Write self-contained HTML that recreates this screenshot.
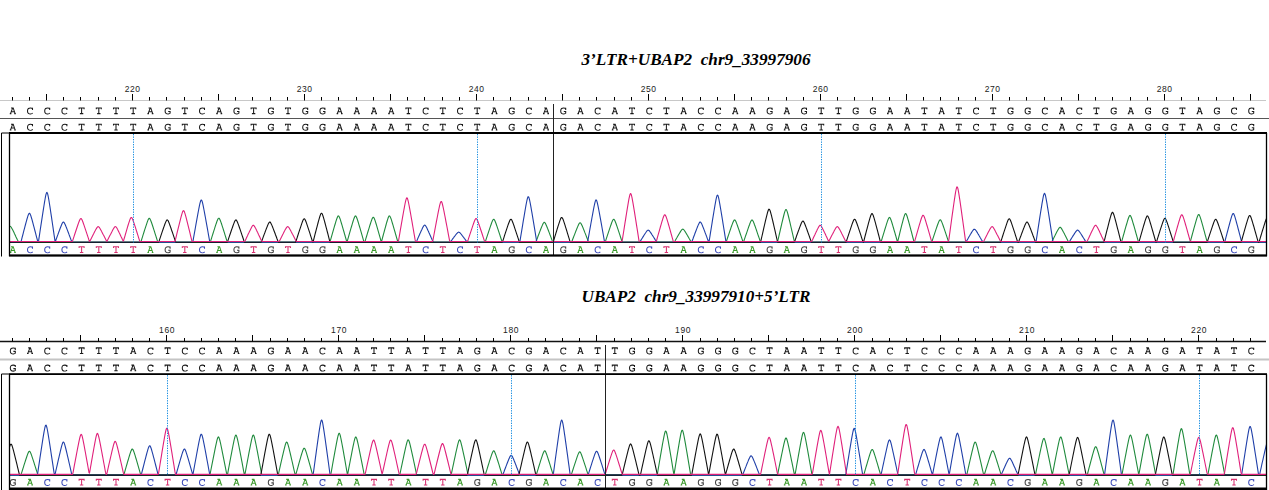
<!DOCTYPE html>
<html><head><meta charset="utf-8"><style>
html,body{margin:0;padding:0;background:#fff;}
svg{display:block;}
.ttl{font-family:"Liberation Serif",serif;font-weight:bold;font-style:italic;font-size:17px;fill:#000;}
.num{font-family:"Liberation Sans",sans-serif;font-size:8.5px;fill:#222;letter-spacing:0.6px;}
.sq{font-family:"Liberation Serif",serif;font-size:11px;fill:#222;stroke:#222;stroke-width:0.25px;}
.cl{font-family:"Liberation Serif",serif;font-size:11px;stroke-width:0.25px;}
</style></head><body>
<svg width="1269" height="490" viewBox="0 0 1269 490">
<defs>
<g id="gA" fill="none" stroke-width="1.05"><path d="M-1.8,-6.4H0.4L2.3,-0.7M-0.2,-6.2L-2.3,-0.7M-1.5,-2.6H1.5M-3.0,-0.7H-1.4M1.4,-0.7H3.0"/></g>
<g id="gC" fill="none" stroke-width="1.05"><path d="M2.5,-4.4V-6.6M2.5,-5.7C1.7,-6.5 -0.5,-6.7 -1.6,-5.8C-2.8,-4.8 -2.8,-2.0 -1.6,-1.0C-0.5,-0.1 1.7,-0.3 2.7,-1.3"/></g>
<g id="gG" fill="none" stroke-width="1.05"><path d="M2.5,-4.4V-6.6M2.5,-5.7C1.7,-6.5 -0.5,-6.7 -1.6,-5.8C-2.8,-4.8 -2.8,-2.0 -1.6,-1.0C-0.5,-0.1 1.9,-0.2 2.5,-1.0V-2.9H0.6"/></g>
<g id="gT" fill="none" stroke-width="1.05"><path d="M-2.5,-5.0V-6.4H2.5V-5.0M0,-6.4V-0.7M-1.7,-0.7H1.7"/></g>
</defs>
<rect width="1269" height="490" fill="#fff"/>
<text x="581.5" y="64.7" class="ttl" textLength="229" lengthAdjust="spacingAndGlyphs">3’LTR+UBAP2&#160;&#160;chr9_33997906</text>
<line x1="0" y1="100.5" x2="1266" y2="100.5" stroke="#c8c8c8" stroke-width="1"/>
<line x1="12.5" y1="97" x2="12.5" y2="100.5" stroke="#000" stroke-width="1"/>
<line x1="29.5" y1="97" x2="29.5" y2="100.5" stroke="#000" stroke-width="1"/>
<line x1="46.5" y1="94" x2="46.5" y2="100.5" stroke="#000" stroke-width="1"/>
<line x1="63.5" y1="97" x2="63.5" y2="100.5" stroke="#000" stroke-width="1"/>
<line x1="80.5" y1="97" x2="80.5" y2="100.5" stroke="#000" stroke-width="1"/>
<line x1="98.5" y1="97" x2="98.5" y2="100.5" stroke="#000" stroke-width="1"/>
<line x1="115.5" y1="97" x2="115.5" y2="100.5" stroke="#000" stroke-width="1"/>
<line x1="132.5" y1="94" x2="132.5" y2="100.5" stroke="#000" stroke-width="1"/>
<text x="132.7" y="92" class="num" text-anchor="middle">220</text>
<line x1="149.5" y1="97" x2="149.5" y2="100.5" stroke="#000" stroke-width="1"/>
<line x1="166.5" y1="97" x2="166.5" y2="100.5" stroke="#000" stroke-width="1"/>
<line x1="184.5" y1="97" x2="184.5" y2="100.5" stroke="#000" stroke-width="1"/>
<line x1="201.5" y1="97" x2="201.5" y2="100.5" stroke="#000" stroke-width="1"/>
<line x1="218.5" y1="94" x2="218.5" y2="100.5" stroke="#000" stroke-width="1"/>
<line x1="235.5" y1="97" x2="235.5" y2="100.5" stroke="#000" stroke-width="1"/>
<line x1="252.5" y1="97" x2="252.5" y2="100.5" stroke="#000" stroke-width="1"/>
<line x1="270.5" y1="97" x2="270.5" y2="100.5" stroke="#000" stroke-width="1"/>
<line x1="287.5" y1="97" x2="287.5" y2="100.5" stroke="#000" stroke-width="1"/>
<line x1="304.5" y1="94" x2="304.5" y2="100.5" stroke="#000" stroke-width="1"/>
<text x="304.7" y="92" class="num" text-anchor="middle">230</text>
<line x1="321.5" y1="97" x2="321.5" y2="100.5" stroke="#000" stroke-width="1"/>
<line x1="338.5" y1="97" x2="338.5" y2="100.5" stroke="#000" stroke-width="1"/>
<line x1="356.5" y1="97" x2="356.5" y2="100.5" stroke="#000" stroke-width="1"/>
<line x1="373.5" y1="97" x2="373.5" y2="100.5" stroke="#000" stroke-width="1"/>
<line x1="390.5" y1="94" x2="390.5" y2="100.5" stroke="#000" stroke-width="1"/>
<line x1="407.5" y1="97" x2="407.5" y2="100.5" stroke="#000" stroke-width="1"/>
<line x1="424.5" y1="97" x2="424.5" y2="100.5" stroke="#000" stroke-width="1"/>
<line x1="442.5" y1="97" x2="442.5" y2="100.5" stroke="#000" stroke-width="1"/>
<line x1="459.5" y1="97" x2="459.5" y2="100.5" stroke="#000" stroke-width="1"/>
<line x1="476.5" y1="94" x2="476.5" y2="100.5" stroke="#000" stroke-width="1"/>
<text x="476.7" y="92" class="num" text-anchor="middle">240</text>
<line x1="493.5" y1="97" x2="493.5" y2="100.5" stroke="#000" stroke-width="1"/>
<line x1="510.5" y1="97" x2="510.5" y2="100.5" stroke="#000" stroke-width="1"/>
<line x1="528.5" y1="97" x2="528.5" y2="100.5" stroke="#000" stroke-width="1"/>
<line x1="545.5" y1="97" x2="545.5" y2="100.5" stroke="#000" stroke-width="1"/>
<line x1="562.5" y1="94" x2="562.5" y2="100.5" stroke="#000" stroke-width="1"/>
<line x1="579.5" y1="97" x2="579.5" y2="100.5" stroke="#000" stroke-width="1"/>
<line x1="596.5" y1="97" x2="596.5" y2="100.5" stroke="#000" stroke-width="1"/>
<line x1="614.5" y1="97" x2="614.5" y2="100.5" stroke="#000" stroke-width="1"/>
<line x1="631.5" y1="97" x2="631.5" y2="100.5" stroke="#000" stroke-width="1"/>
<line x1="648.5" y1="94" x2="648.5" y2="100.5" stroke="#000" stroke-width="1"/>
<text x="648.7" y="92" class="num" text-anchor="middle">250</text>
<line x1="665.5" y1="97" x2="665.5" y2="100.5" stroke="#000" stroke-width="1"/>
<line x1="682.5" y1="97" x2="682.5" y2="100.5" stroke="#000" stroke-width="1"/>
<line x1="700.5" y1="97" x2="700.5" y2="100.5" stroke="#000" stroke-width="1"/>
<line x1="717.5" y1="97" x2="717.5" y2="100.5" stroke="#000" stroke-width="1"/>
<line x1="734.5" y1="94" x2="734.5" y2="100.5" stroke="#000" stroke-width="1"/>
<line x1="751.5" y1="97" x2="751.5" y2="100.5" stroke="#000" stroke-width="1"/>
<line x1="768.5" y1="97" x2="768.5" y2="100.5" stroke="#000" stroke-width="1"/>
<line x1="786.5" y1="97" x2="786.5" y2="100.5" stroke="#000" stroke-width="1"/>
<line x1="803.5" y1="97" x2="803.5" y2="100.5" stroke="#000" stroke-width="1"/>
<line x1="820.5" y1="94" x2="820.5" y2="100.5" stroke="#000" stroke-width="1"/>
<text x="820.7" y="92" class="num" text-anchor="middle">260</text>
<line x1="837.5" y1="97" x2="837.5" y2="100.5" stroke="#000" stroke-width="1"/>
<line x1="854.5" y1="97" x2="854.5" y2="100.5" stroke="#000" stroke-width="1"/>
<line x1="872.5" y1="97" x2="872.5" y2="100.5" stroke="#000" stroke-width="1"/>
<line x1="889.5" y1="97" x2="889.5" y2="100.5" stroke="#000" stroke-width="1"/>
<line x1="906.5" y1="94" x2="906.5" y2="100.5" stroke="#000" stroke-width="1"/>
<line x1="923.5" y1="97" x2="923.5" y2="100.5" stroke="#000" stroke-width="1"/>
<line x1="940.5" y1="97" x2="940.5" y2="100.5" stroke="#000" stroke-width="1"/>
<line x1="958.5" y1="97" x2="958.5" y2="100.5" stroke="#000" stroke-width="1"/>
<line x1="975.5" y1="97" x2="975.5" y2="100.5" stroke="#000" stroke-width="1"/>
<line x1="992.5" y1="94" x2="992.5" y2="100.5" stroke="#000" stroke-width="1"/>
<text x="992.7" y="92" class="num" text-anchor="middle">270</text>
<line x1="1009.5" y1="97" x2="1009.5" y2="100.5" stroke="#000" stroke-width="1"/>
<line x1="1026.5" y1="97" x2="1026.5" y2="100.5" stroke="#000" stroke-width="1"/>
<line x1="1044.5" y1="97" x2="1044.5" y2="100.5" stroke="#000" stroke-width="1"/>
<line x1="1061.5" y1="97" x2="1061.5" y2="100.5" stroke="#000" stroke-width="1"/>
<line x1="1078.5" y1="94" x2="1078.5" y2="100.5" stroke="#000" stroke-width="1"/>
<line x1="1095.5" y1="97" x2="1095.5" y2="100.5" stroke="#000" stroke-width="1"/>
<line x1="1112.5" y1="97" x2="1112.5" y2="100.5" stroke="#000" stroke-width="1"/>
<line x1="1130.5" y1="97" x2="1130.5" y2="100.5" stroke="#000" stroke-width="1"/>
<line x1="1147.5" y1="97" x2="1147.5" y2="100.5" stroke="#000" stroke-width="1"/>
<line x1="1164.5" y1="94" x2="1164.5" y2="100.5" stroke="#000" stroke-width="1"/>
<text x="1164.7" y="92" class="num" text-anchor="middle">280</text>
<line x1="1181.5" y1="97" x2="1181.5" y2="100.5" stroke="#000" stroke-width="1"/>
<line x1="1198.5" y1="97" x2="1198.5" y2="100.5" stroke="#000" stroke-width="1"/>
<line x1="1216.5" y1="97" x2="1216.5" y2="100.5" stroke="#000" stroke-width="1"/>
<line x1="1233.5" y1="97" x2="1233.5" y2="100.5" stroke="#000" stroke-width="1"/>
<line x1="1250.5" y1="94" x2="1250.5" y2="100.5" stroke="#000" stroke-width="1"/>
<use href="#gA" x="12.8" y="114.3" stroke="#1a1a1a"/>
<use href="#gA" x="12.8" y="130.6" stroke="#1a1a1a"/>
<use href="#gC" x="30.0" y="114.3" stroke="#1a1a1a"/>
<use href="#gC" x="30.0" y="130.6" stroke="#1a1a1a"/>
<use href="#gC" x="47.2" y="114.3" stroke="#1a1a1a"/>
<use href="#gC" x="47.2" y="130.6" stroke="#1a1a1a"/>
<use href="#gC" x="64.4" y="114.3" stroke="#1a1a1a"/>
<use href="#gC" x="64.4" y="130.6" stroke="#1a1a1a"/>
<use href="#gT" x="81.6" y="114.3" stroke="#1a1a1a"/>
<use href="#gT" x="81.6" y="130.6" stroke="#1a1a1a"/>
<use href="#gT" x="98.8" y="114.3" stroke="#1a1a1a"/>
<use href="#gT" x="98.8" y="130.6" stroke="#1a1a1a"/>
<use href="#gT" x="116.0" y="114.3" stroke="#1a1a1a"/>
<use href="#gT" x="116.0" y="130.6" stroke="#1a1a1a"/>
<use href="#gT" x="133.2" y="114.3" stroke="#1a1a1a"/>
<use href="#gT" x="133.2" y="130.6" stroke="#1a1a1a"/>
<use href="#gA" x="150.4" y="114.3" stroke="#1a1a1a"/>
<use href="#gA" x="150.4" y="130.6" stroke="#1a1a1a"/>
<use href="#gG" x="167.6" y="114.3" stroke="#1a1a1a"/>
<use href="#gG" x="167.6" y="130.6" stroke="#1a1a1a"/>
<use href="#gT" x="184.8" y="114.3" stroke="#1a1a1a"/>
<use href="#gT" x="184.8" y="130.6" stroke="#1a1a1a"/>
<use href="#gC" x="202.0" y="114.3" stroke="#1a1a1a"/>
<use href="#gC" x="202.0" y="130.6" stroke="#1a1a1a"/>
<use href="#gA" x="219.2" y="114.3" stroke="#1a1a1a"/>
<use href="#gA" x="219.2" y="130.6" stroke="#1a1a1a"/>
<use href="#gG" x="236.4" y="114.3" stroke="#1a1a1a"/>
<use href="#gG" x="236.4" y="130.6" stroke="#1a1a1a"/>
<use href="#gT" x="253.6" y="114.3" stroke="#1a1a1a"/>
<use href="#gT" x="253.6" y="130.6" stroke="#1a1a1a"/>
<use href="#gG" x="270.8" y="114.3" stroke="#1a1a1a"/>
<use href="#gG" x="270.8" y="130.6" stroke="#1a1a1a"/>
<use href="#gT" x="288.0" y="114.3" stroke="#1a1a1a"/>
<use href="#gT" x="288.0" y="130.6" stroke="#1a1a1a"/>
<use href="#gG" x="305.2" y="114.3" stroke="#1a1a1a"/>
<use href="#gG" x="305.2" y="130.6" stroke="#1a1a1a"/>
<use href="#gG" x="322.4" y="114.3" stroke="#1a1a1a"/>
<use href="#gG" x="322.4" y="130.6" stroke="#1a1a1a"/>
<use href="#gA" x="339.6" y="114.3" stroke="#1a1a1a"/>
<use href="#gA" x="339.6" y="130.6" stroke="#1a1a1a"/>
<use href="#gA" x="356.8" y="114.3" stroke="#1a1a1a"/>
<use href="#gA" x="356.8" y="130.6" stroke="#1a1a1a"/>
<use href="#gA" x="374.0" y="114.3" stroke="#1a1a1a"/>
<use href="#gA" x="374.0" y="130.6" stroke="#1a1a1a"/>
<use href="#gA" x="391.2" y="114.3" stroke="#1a1a1a"/>
<use href="#gA" x="391.2" y="130.6" stroke="#1a1a1a"/>
<use href="#gT" x="408.4" y="114.3" stroke="#1a1a1a"/>
<use href="#gT" x="408.4" y="130.6" stroke="#1a1a1a"/>
<use href="#gC" x="425.6" y="114.3" stroke="#1a1a1a"/>
<use href="#gC" x="425.6" y="130.6" stroke="#1a1a1a"/>
<use href="#gT" x="442.8" y="114.3" stroke="#1a1a1a"/>
<use href="#gT" x="442.8" y="130.6" stroke="#1a1a1a"/>
<use href="#gC" x="460.0" y="114.3" stroke="#1a1a1a"/>
<use href="#gC" x="460.0" y="130.6" stroke="#1a1a1a"/>
<use href="#gT" x="477.2" y="114.3" stroke="#1a1a1a"/>
<use href="#gT" x="477.2" y="130.6" stroke="#1a1a1a"/>
<use href="#gA" x="494.4" y="114.3" stroke="#1a1a1a"/>
<use href="#gA" x="494.4" y="130.6" stroke="#1a1a1a"/>
<use href="#gG" x="511.6" y="114.3" stroke="#1a1a1a"/>
<use href="#gG" x="511.6" y="130.6" stroke="#1a1a1a"/>
<use href="#gC" x="528.8" y="114.3" stroke="#1a1a1a"/>
<use href="#gC" x="528.8" y="130.6" stroke="#1a1a1a"/>
<use href="#gA" x="546.0" y="114.3" stroke="#1a1a1a"/>
<use href="#gA" x="546.0" y="130.6" stroke="#1a1a1a"/>
<use href="#gG" x="563.2" y="114.3" stroke="#1a1a1a"/>
<use href="#gG" x="563.2" y="130.6" stroke="#1a1a1a"/>
<use href="#gA" x="580.4" y="114.3" stroke="#1a1a1a"/>
<use href="#gA" x="580.4" y="130.6" stroke="#1a1a1a"/>
<use href="#gC" x="597.6" y="114.3" stroke="#1a1a1a"/>
<use href="#gC" x="597.6" y="130.6" stroke="#1a1a1a"/>
<use href="#gA" x="614.8" y="114.3" stroke="#1a1a1a"/>
<use href="#gA" x="614.8" y="130.6" stroke="#1a1a1a"/>
<use href="#gT" x="632.0" y="114.3" stroke="#1a1a1a"/>
<use href="#gT" x="632.0" y="130.6" stroke="#1a1a1a"/>
<use href="#gC" x="649.2" y="114.3" stroke="#1a1a1a"/>
<use href="#gC" x="649.2" y="130.6" stroke="#1a1a1a"/>
<use href="#gT" x="666.4" y="114.3" stroke="#1a1a1a"/>
<use href="#gT" x="666.4" y="130.6" stroke="#1a1a1a"/>
<use href="#gA" x="683.6" y="114.3" stroke="#1a1a1a"/>
<use href="#gA" x="683.6" y="130.6" stroke="#1a1a1a"/>
<use href="#gC" x="700.8" y="114.3" stroke="#1a1a1a"/>
<use href="#gC" x="700.8" y="130.6" stroke="#1a1a1a"/>
<use href="#gC" x="718.0" y="114.3" stroke="#1a1a1a"/>
<use href="#gC" x="718.0" y="130.6" stroke="#1a1a1a"/>
<use href="#gA" x="735.2" y="114.3" stroke="#1a1a1a"/>
<use href="#gA" x="735.2" y="130.6" stroke="#1a1a1a"/>
<use href="#gA" x="752.4" y="114.3" stroke="#1a1a1a"/>
<use href="#gA" x="752.4" y="130.6" stroke="#1a1a1a"/>
<use href="#gG" x="769.6" y="114.3" stroke="#1a1a1a"/>
<use href="#gG" x="769.6" y="130.6" stroke="#1a1a1a"/>
<use href="#gA" x="786.8" y="114.3" stroke="#1a1a1a"/>
<use href="#gA" x="786.8" y="130.6" stroke="#1a1a1a"/>
<use href="#gG" x="804.0" y="114.3" stroke="#1a1a1a"/>
<use href="#gG" x="804.0" y="130.6" stroke="#1a1a1a"/>
<use href="#gT" x="821.2" y="114.3" stroke="#1a1a1a"/>
<use href="#gT" x="821.2" y="130.6" stroke="#1a1a1a"/>
<use href="#gT" x="838.4" y="114.3" stroke="#1a1a1a"/>
<use href="#gT" x="838.4" y="130.6" stroke="#1a1a1a"/>
<use href="#gG" x="855.6" y="114.3" stroke="#1a1a1a"/>
<use href="#gG" x="855.6" y="130.6" stroke="#1a1a1a"/>
<use href="#gG" x="872.8" y="114.3" stroke="#1a1a1a"/>
<use href="#gG" x="872.8" y="130.6" stroke="#1a1a1a"/>
<use href="#gA" x="890.0" y="114.3" stroke="#1a1a1a"/>
<use href="#gA" x="890.0" y="130.6" stroke="#1a1a1a"/>
<use href="#gA" x="907.2" y="114.3" stroke="#1a1a1a"/>
<use href="#gA" x="907.2" y="130.6" stroke="#1a1a1a"/>
<use href="#gT" x="924.4" y="114.3" stroke="#1a1a1a"/>
<use href="#gT" x="924.4" y="130.6" stroke="#1a1a1a"/>
<use href="#gA" x="941.6" y="114.3" stroke="#1a1a1a"/>
<use href="#gA" x="941.6" y="130.6" stroke="#1a1a1a"/>
<use href="#gT" x="958.8" y="114.3" stroke="#1a1a1a"/>
<use href="#gT" x="958.8" y="130.6" stroke="#1a1a1a"/>
<use href="#gC" x="976.0" y="114.3" stroke="#1a1a1a"/>
<use href="#gC" x="976.0" y="130.6" stroke="#1a1a1a"/>
<use href="#gT" x="993.2" y="114.3" stroke="#1a1a1a"/>
<use href="#gT" x="993.2" y="130.6" stroke="#1a1a1a"/>
<use href="#gG" x="1010.4" y="114.3" stroke="#1a1a1a"/>
<use href="#gG" x="1010.4" y="130.6" stroke="#1a1a1a"/>
<use href="#gG" x="1027.6" y="114.3" stroke="#1a1a1a"/>
<use href="#gG" x="1027.6" y="130.6" stroke="#1a1a1a"/>
<use href="#gC" x="1044.8" y="114.3" stroke="#1a1a1a"/>
<use href="#gC" x="1044.8" y="130.6" stroke="#1a1a1a"/>
<use href="#gA" x="1062.0" y="114.3" stroke="#1a1a1a"/>
<use href="#gA" x="1062.0" y="130.6" stroke="#1a1a1a"/>
<use href="#gC" x="1079.2" y="114.3" stroke="#1a1a1a"/>
<use href="#gC" x="1079.2" y="130.6" stroke="#1a1a1a"/>
<use href="#gT" x="1096.4" y="114.3" stroke="#1a1a1a"/>
<use href="#gT" x="1096.4" y="130.6" stroke="#1a1a1a"/>
<use href="#gG" x="1113.6" y="114.3" stroke="#1a1a1a"/>
<use href="#gG" x="1113.6" y="130.6" stroke="#1a1a1a"/>
<use href="#gA" x="1130.8" y="114.3" stroke="#1a1a1a"/>
<use href="#gA" x="1130.8" y="130.6" stroke="#1a1a1a"/>
<use href="#gG" x="1148.0" y="114.3" stroke="#1a1a1a"/>
<use href="#gG" x="1148.0" y="130.6" stroke="#1a1a1a"/>
<use href="#gG" x="1165.2" y="114.3" stroke="#1a1a1a"/>
<use href="#gG" x="1165.2" y="130.6" stroke="#1a1a1a"/>
<use href="#gT" x="1182.4" y="114.3" stroke="#1a1a1a"/>
<use href="#gT" x="1182.4" y="130.6" stroke="#1a1a1a"/>
<use href="#gA" x="1199.6" y="114.3" stroke="#1a1a1a"/>
<use href="#gA" x="1199.6" y="130.6" stroke="#1a1a1a"/>
<use href="#gG" x="1216.8" y="114.3" stroke="#1a1a1a"/>
<use href="#gG" x="1216.8" y="130.6" stroke="#1a1a1a"/>
<use href="#gC" x="1234.0" y="114.3" stroke="#1a1a1a"/>
<use href="#gC" x="1234.0" y="130.6" stroke="#1a1a1a"/>
<use href="#gG" x="1251.2" y="114.3" stroke="#1a1a1a"/>
<use href="#gG" x="1251.2" y="130.6" stroke="#1a1a1a"/>
<line x1="0" y1="118.5" x2="1269" y2="118.5" stroke="#555" stroke-width="1.2"/>
<clipPath id="clip0"><rect x="10" y="133" width="1256.5" height="122.5"/></clipPath>
<line x1="10" y1="242.3" x2="1266" y2="242.3" stroke="#222" stroke-width="1"/>
<g clip-path="url(#clip0)" fill="none" stroke-width="1.1" stroke-linejoin="round">
<path d="M8,228.7L8.5,227.8L9,227.0L9.5,226.4L10,226.2L10.5,226.4L11,227.0L11.5,227.8L12,228.7L12.5,229.6L13,230.6L13.5,231.6L14,232.6L14.5,233.7L15,234.7L15.5,235.8L16,236.9L16.5,237.9L17,239.0L17.5,240.1L18,241.1L18.5,242.2L140.5,242.2L141,241.6L141.5,240.0L142,238.4L142.5,236.8L143,235.2L143.5,233.6L144,232.0L144.5,230.4L145,228.9L145.5,227.3L146,225.8L146.5,224.3L147,222.8L147.5,221.4L148,220.1L148.5,219.1L149,218.4L149.5,218.4L150,218.9L150.5,219.9L151,221.2L151.5,222.5L152,224.0L152.5,225.5L153,227.0L153.5,228.6L154,230.1L154.5,231.7L155,233.3L155.5,234.9L156,236.4L156.5,238.0L157,239.6L157.5,241.2L158,242.2L210,242.2L210.5,241.6L211,239.9L211.5,238.3L212,236.7L212.5,235.1L213,233.5L213.5,231.9L214,230.3L214.5,228.8L215,227.2L215.5,225.6L216,224.1L216.5,222.7L217,221.2L217.5,220.0L218,218.9L218.5,218.2L219,218.2L219.5,218.7L220,219.7L220.5,221.0L221,222.4L221.5,223.8L222,225.3L222.5,226.9L223,228.4L223.5,230.0L224,231.6L224.5,233.2L225,234.8L225.5,236.4L226,238.0L226.5,239.6L227,241.2L227.5,242.2L329.5,242.2L330,241.8L330.5,240.1L331,238.3L331.5,236.6L332,234.8L332.5,233.1L333,231.3L333.5,229.6L334,227.9L334.5,226.2L335,224.5L335.5,222.8L336,221.2L336.5,219.6L337,218.2L337.5,217.0L338,216.1L338.5,215.9L339,216.4L339.5,217.4L340,218.7L340.5,220.2L341,221.8L341.5,223.5L342,225.1L342.5,226.8L343,228.6L343.5,230.3L344,232.0L344.5,233.8L345,235.5L345.5,237.3L346,239.0L346.5,240.8L347,242.2L347.5,240.4L348,238.7L348.5,236.9L349,235.2L349.5,233.4L350,231.7L350.5,229.9L351,228.2L351.5,226.5L352,224.8L352.5,223.1L353,221.5L353.5,219.9L354,218.5L354.5,217.2L355,216.3L355.5,215.9L356,216.3L356.5,217.2L357,218.5L357.5,219.9L358,221.5L358.5,223.1L359,224.8L359.5,226.5L360,228.2L360.5,229.9L361,231.7L361.5,233.4L362,235.2L362.5,236.9L363,238.7L363.5,240.4L364,242.2L364.5,242.2L365,241.5L365.5,239.9L366,238.2L366.5,236.5L367,234.8L367.5,233.2L368,231.5L368.5,229.9L369,228.3L369.5,226.6L370,225.0L370.5,223.5L371,221.9L371.5,220.5L372,219.1L372.5,218.0L373,217.3L373.5,217.3L374,217.9L374.5,219.0L375,220.4L375.5,221.9L376,223.5L376.5,225.2L377,226.9L377.5,228.6L378,230.4L378.5,232.1L379,233.9L379.5,235.6L380,237.4L380.5,239.2L381,241.0L381.5,241.6L382,239.8L382.5,237.9L383,236.0L383.5,234.2L384,232.3L384.5,230.5L385,228.6L385.5,226.8L386,225.0L386.5,223.2L387,221.5L387.5,219.9L388,218.3L388.5,217.0L389,216.1L389.5,215.9L390,216.4L390.5,217.4L391,218.7L391.5,220.2L392,221.8L392.5,223.5L393,225.1L393.5,226.8L394,228.6L394.5,230.3L395,232.0L395.5,233.8L396,235.5L396.5,237.3L397,239.0L397.5,240.8L398,242.2L485,242.2L485.5,241.3L486,239.7L486.5,238.2L487,236.7L487.5,235.1L488,233.6L488.5,232.1L489,230.6L489.5,229.1L490,227.6L490.5,226.1L491,224.7L491.5,223.3L492,221.9L492.5,220.7L493,219.8L493.5,219.3L494,219.3L494.5,220.0L495,221.0L495.5,222.2L496,223.5L496.5,225.0L497,226.4L497.5,227.9L498,229.4L498.5,230.9L499,232.4L499.5,233.9L500,235.4L500.5,237.0L501,238.5L501.5,240.0L502,241.6L502.5,242.2L535.5,242.2L536,241.7L536.5,240.3L537,239.0L537.5,237.7L538,236.3L538.5,235.0L539,233.7L539.5,232.4L540,231.1L540.5,229.8L541,228.5L541.5,227.3L542,226.1L542.5,224.9L543,223.8L543.5,223.0L544,222.4L544.5,222.3L545,222.8L545.5,223.6L546,224.7L546.5,225.8L547,227.0L547.5,228.3L548,229.5L548.5,230.8L549,232.1L549.5,233.4L550,234.8L550.5,236.1L551,237.4L551.5,238.7L552,240.1L552.5,241.4L553,242.2L571.5,242.2L572,241.2L572.5,239.8L573,238.5L573.5,237.2L574,235.9L574.5,234.7L575,233.4L575.5,232.1L576,230.8L576.5,229.6L577,228.3L577.5,227.1L578,225.9L578.5,224.8L579,223.8L579.5,223.1L580,222.7L580.5,222.9L581,223.5L581.5,224.4L582,225.5L582.5,226.6L583,227.8L583.5,229.1L584,230.3L584.5,231.6L585,232.9L585.5,234.1L586,235.4L586.5,236.7L587,238.0L587.5,239.3L588,240.6L588.5,241.9L589,242.2L605,242.2L605.5,241.3L606,239.7L606.5,238.2L607,236.7L607.5,235.1L608,233.6L608.5,232.1L609,230.6L609.5,229.1L610,227.6L610.5,226.1L611,224.7L611.5,223.3L612,221.9L612.5,220.7L613,219.8L613.5,219.3L614,219.3L614.5,220.0L615,221.0L615.5,222.2L616,223.5L616.5,225.0L617,226.4L617.5,227.9L618,229.4L618.5,230.9L619,232.4L619.5,233.9L620,235.4L620.5,237.0L621,238.5L621.5,240.0L622,241.6L622.5,242.2L674,242.2L674.5,241.8L675,241.0L675.5,240.1L676,239.2L676.5,238.3L677,237.5L677.5,236.6L678,235.7L678.5,234.9L679,234.0L679.5,233.2L680,232.4L680.5,231.6L681,230.8L681.5,230.1L682,229.5L682.5,229.2L683,229.1L683.5,229.4L684,230.0L684.5,230.7L685,231.4L685.5,232.2L686,233.0L686.5,233.9L687,234.7L687.5,235.6L688,236.4L688.5,237.3L689,238.2L689.5,239.0L690,239.9L690.5,240.8L691,241.7L691.5,242.2L726,242.2L726.5,241.0L727,239.5L727.5,238.0L728,236.5L728.5,235.1L729,233.6L729.5,232.1L730,230.6L730.5,229.2L731,227.7L731.5,226.3L732,224.9L732.5,223.6L733,222.3L733.5,221.2L734,220.3L734.5,219.9L735,220.1L735.5,220.8L736,221.8L736.5,223.1L737,224.4L737.5,225.8L738,227.2L738.5,228.6L739,230.0L739.5,231.5L740,233.0L740.5,234.5L741,235.9L741.5,237.4L742,238.9L742.5,240.4L743,241.9L743.5,242.2L744,240.7L744.5,239.2L745,237.7L745.5,236.2L746,234.8L746.5,233.3L747,231.8L747.5,230.3L748,228.9L748.5,227.4L749,226.0L749.5,224.7L750,223.3L750.5,222.1L751,221.0L751.5,220.2L752,219.9L752.5,220.2L753,221.0L753.5,222.1L754,223.3L754.5,224.7L755,226.0L755.5,227.4L756,228.9L756.5,230.3L757,231.8L757.5,233.3L758,234.8L758.5,236.2L759,237.7L759.5,239.2L760,240.7L760.5,242.2L777.5,242.2L778,240.0L778.5,237.8L779,235.6L779.5,233.5L780,231.3L780.5,229.1L781,227.0L781.5,224.8L782,222.7L782.5,220.6L783,218.5L783.5,216.5L784,214.5L784.5,212.7L785,211.1L785.5,209.9L786,209.5L786.5,209.9L787,211.1L787.5,212.7L788,214.5L788.5,216.5L789,218.5L789.5,220.6L790,222.7L790.5,224.8L791,227.0L791.5,229.1L792,231.3L792.5,233.5L793,235.6L793.5,237.8L794,240.0L794.5,242.2L881,242.2L881.5,240.5L882,238.9L882.5,237.2L883,235.6L883.5,233.9L884,232.3L884.5,230.6L885,229.0L885.5,227.4L886,225.8L886.5,224.2L887,222.7L887.5,221.2L888,219.8L888.5,218.6L889,217.7L889.5,217.4L890,217.8L890.5,218.7L891,220.0L891.5,221.4L892,223.0L892.5,224.7L893,226.3L893.5,228.0L894,229.8L894.5,231.5L895,233.2L895.5,235.0L896,236.7L896.5,238.5L897,240.3L897.5,242.0L898,240.4L898.5,238.3L899,236.3L899.5,234.3L900,232.2L900.5,230.2L901,228.2L901.5,226.2L902,224.2L902.5,222.3L903,220.4L903.5,218.5L904,216.8L904.5,215.3L905,214.1L905.5,213.5L906,213.8L906.5,214.7L907,216.0L907.5,217.6L908,219.3L908.5,221.0L909,222.8L909.5,224.7L910,226.6L910.5,228.4L911,230.3L911.5,232.2L912,234.1L912.5,236.1L913,238.0L913.5,239.9L914,241.8L914.5,242.2L931.5,242.2L932,241.3L932.5,239.8L933,238.3L933.5,236.8L934,235.3L934.5,233.8L935,232.3L935.5,230.8L936,229.4L936.5,227.9L937,226.5L937.5,225.0L938,223.7L938.5,222.4L939,221.2L939.5,220.3L940,219.8L940.5,219.8L941,220.4L941.5,221.4L942,222.6L942.5,223.9L943,225.3L943.5,226.7L944,228.2L944.5,229.6L945,231.1L945.5,232.6L946,234.1L946.5,235.6L947,237.1L947.5,238.6L948,240.1L948.5,241.6L949,242.2L1051.5,242.2L1052,241.4L1052.5,240.4L1053,239.4L1053.5,238.4L1054,237.4L1054.5,236.4L1055,235.5L1055.5,234.5L1056,233.5L1056.5,232.5L1057,231.6L1057.5,230.7L1058,229.8L1058.5,228.9L1059,228.2L1059.5,227.6L1060,227.3L1060.5,227.4L1061,227.9L1061.5,228.6L1062,229.4L1062.5,230.3L1063,231.2L1063.5,232.2L1064,233.1L1064.5,234.1L1065,235.1L1065.5,236.0L1066,237.0L1066.5,238.0L1067,239.0L1067.5,240.0L1068,241.0L1068.5,242.0L1069,242.2L1121.5,242.2L1122,240.4L1122.5,238.6L1123,236.8L1123.5,235.0L1124,233.3L1124.5,231.5L1125,229.7L1125.5,227.9L1126,226.2L1126.5,224.5L1127,222.8L1127.5,221.1L1128,219.5L1128.5,218.0L1129,216.7L1129.5,215.8L1130,215.4L1130.5,215.8L1131,216.7L1131.5,218.0L1132,219.5L1132.5,221.1L1133,222.8L1133.5,224.5L1134,226.2L1134.5,227.9L1135,229.7L1135.5,231.5L1136,233.3L1136.5,235.0L1137,236.8L1137.5,238.6L1138,240.4L1138.5,242.2L1190,242.2L1190.5,241.1L1191,239.2L1191.5,237.4L1192,235.5L1192.5,233.7L1193,231.8L1193.5,230.0L1194,228.2L1194.5,226.4L1195,224.6L1195.5,222.8L1196,221.1L1196.5,219.4L1197,217.8L1197.5,216.4L1198,215.2L1198.5,214.6L1199,214.6L1199.5,215.4L1200,216.6L1200.5,218.1L1201,219.7L1201.5,221.4L1202,223.2L1202.5,224.9L1203,226.7L1203.5,228.6L1204,230.4L1204.5,232.2L1205,234.1L1205.5,235.9L1206,237.7L1206.5,239.6L1207,241.5L1207.5,242.2L1270,242.2" stroke="#1f8a3c"/>
<path d="M8,242.2L20.5,242.2L21,241.8L21.5,239.9L22,237.9L22.5,236.0L23,234.1L23.5,232.1L24,230.2L24.5,228.3L25,226.4L25.5,224.5L26,222.6L26.5,220.8L27,219.0L27.5,217.3L28,215.7L28.5,214.4L29,213.5L29.5,213.2L30,213.8L30.5,214.9L31,216.3L31.5,218.0L32,219.7L32.5,221.5L33,223.4L33.5,225.3L34,227.2L34.5,229.1L35,231.0L35.5,232.9L36,234.8L36.5,236.8L37,238.7L37.5,240.6L38,242.2L38.5,241.5L39,238.2L39.5,234.9L40,231.5L40.5,228.2L41,224.9L41.5,221.6L42,218.3L42.5,215.1L43,211.8L43.5,208.6L44,205.5L44.5,202.4L45,199.5L45.5,196.7L46,194.4L46.5,192.8L47,192.4L47.5,193.4L48,195.4L48.5,198.0L49,200.9L49.5,204.0L50,207.2L50.5,210.5L51,213.8L51.5,217.2L52,220.6L52.5,224.0L53,227.4L53.5,230.8L54,234.3L54.5,237.7L55,241.2L55.5,241.2L56,239.8L56.5,238.4L57,237.0L57.5,235.6L58,234.3L58.5,232.9L59,231.5L59.5,230.2L60,228.8L60.5,227.5L61,226.2L61.5,225.0L62,223.8L62.5,222.8L63,222.2L63.5,222.0L64,222.4L64.5,223.2L65,224.2L65.5,225.3L66,226.6L66.5,227.8L67,229.1L67.5,230.4L68,231.7L68.5,233.0L69,234.4L69.5,235.7L70,237.1L70.5,238.4L71,239.8L71.5,241.1L72,242.2L192.5,242.2L193,241.1L193.5,238.2L194,235.4L194.5,232.6L195,229.8L195.5,227.0L196,224.2L196.5,221.4L197,218.6L197.5,215.9L198,213.1L198.5,210.5L199,207.9L199.5,205.4L200,203.2L200.5,201.3L201,200.1L201.5,200.0L202,201.0L202.5,202.7L203,204.9L203.5,207.4L204,210.0L204.5,212.6L205,215.3L205.5,218.0L206,220.8L206.5,223.6L207,226.4L207.5,229.2L208,232.0L208.5,234.8L209,237.7L209.5,240.5L210,242.2L416,242.2L416.5,241.5L417,240.4L417.5,239.2L418,238.1L418.5,236.9L419,235.8L419.5,234.7L420,233.6L420.5,232.4L421,231.3L421.5,230.2L422,229.2L422.5,228.1L423,227.1L423.5,226.3L424,225.5L424.5,225.1L425,225.2L425.5,225.7L426,226.4L426.5,227.3L427,228.3L427.5,229.4L428,230.5L428.5,231.5L429,232.7L429.5,233.8L430,234.9L430.5,236.0L431,237.2L431.5,238.3L432,239.5L432.5,240.6L433,241.7L433.5,242.2L450,242.2L450.5,241.8L451,241.1L451.5,240.4L452,239.8L452.5,239.1L453,238.4L453.5,237.8L454,237.1L454.5,236.4L455,235.8L455.5,235.1L456,234.5L456.5,233.9L457,233.3L457.5,232.8L458,232.4L458.5,232.1L459,232.2L459.5,232.4L460,232.9L460.5,233.4L461,234.0L461.5,234.6L462,235.3L462.5,235.9L463,236.6L463.5,237.2L464,237.9L464.5,238.6L465,239.2L465.5,239.9L466,240.6L466.5,241.3L467,241.9L467.5,242.2L519.5,242.2L520,241.0L520.5,237.9L521,234.9L521.5,231.8L522,228.8L522.5,225.8L523,222.7L523.5,219.7L524,216.8L524.5,213.8L525,210.9L525.5,208.0L526,205.2L526.5,202.5L527,200.1L527.5,198.1L528,196.8L528.5,196.7L529,197.8L529.5,199.7L530,202.0L530.5,204.7L531,207.4L531.5,210.3L532,213.2L532.5,216.2L533,219.1L533.5,222.1L534,225.2L534.5,228.2L535,231.2L535.5,234.3L536,237.3L536.5,240.4L537,242.2L587.5,242.2L588,239.9L588.5,237.1L589,234.3L589.5,231.5L590,228.6L590.5,225.8L591,223.0L591.5,220.3L592,217.5L592.5,214.8L593,212.1L593.5,209.4L594,206.9L594.5,204.5L595,202.4L595.5,200.7L596,199.9L596.5,200.3L597,201.6L597.5,203.6L598,205.9L598.5,208.4L599,211.0L599.5,213.7L600,216.4L600.5,219.2L601,221.9L601.5,224.7L602,227.5L602.5,230.3L603,233.1L603.5,236.0L604,238.8L604.5,241.6L605,242.2L639.5,242.2L640,241.7L640.5,240.9L641,240.1L641.5,239.3L642,238.5L642.5,237.7L643,236.9L643.5,236.1L644,235.3L644.5,234.5L645,233.7L645.5,233.0L646,232.2L646.5,231.5L647,230.9L647.5,230.4L648,230.1L648.5,230.2L649,230.5L649.5,231.0L650,231.7L650.5,232.4L651,233.1L651.5,233.9L652,234.7L652.5,235.4L653,236.2L653.5,237.0L654,237.8L654.5,238.6L655,239.4L655.5,240.3L656,241.1L656.5,241.9L657,242.2L691.5,242.2L692,241.4L692.5,240.0L693,238.7L693.5,237.3L694,236.0L694.5,234.7L695,233.3L695.5,232.0L696,230.7L696.5,229.4L697,228.1L697.5,226.8L698,225.6L698.5,224.4L699,223.4L699.5,222.5L700,222.0L700.5,222.1L701,222.7L701.5,223.6L702,224.6L702.5,225.8L703,227.1L703.5,228.3L704,229.6L704.5,230.9L705,232.3L705.5,233.6L706,234.9L706.5,236.3L707,237.6L707.5,239.0L708,240.3L708.5,241.7L709,242.2L709.5,239.0L710,235.9L710.5,232.7L711,229.6L711.5,226.5L712,223.4L712.5,220.2L713,217.2L713.5,214.1L714,211.0L714.5,208.1L715,205.1L715.5,202.3L716,199.7L716.5,197.4L717,195.7L717.5,195.1L718,195.7L718.5,197.4L719,199.7L719.5,202.3L720,205.1L720.5,208.1L721,211.0L721.5,214.1L722,217.2L722.5,220.2L723,223.4L723.5,226.5L724,229.6L724.5,232.7L725,235.9L725.5,239.0L726,242.2L965.5,242.2L966,242.0L966.5,241.2L967,240.3L967.5,239.4L968,238.6L968.5,237.7L969,236.8L969.5,236.0L970,235.1L970.5,234.3L971,233.4L971.5,232.6L972,231.8L972.5,231.0L973,230.3L973.5,229.7L974,229.3L974.5,229.2L975,229.4L975.5,230.0L976,230.6L976.5,231.3L977,232.1L977.5,232.9L978,233.8L978.5,234.6L979,235.5L979.5,236.3L980,237.2L980.5,238.0L981,238.9L981.5,239.8L982,240.6L982.5,241.5L983,242.2L1036,242.2L1036.5,238.9L1037,235.7L1037.5,232.4L1038,229.1L1038.5,225.9L1039,222.6L1039.5,219.4L1040,216.2L1040.5,213.0L1041,209.9L1041.5,206.8L1042,203.7L1042.5,200.8L1043,198.1L1043.5,195.7L1044,194.0L1044.5,193.3L1045,194.0L1045.5,195.7L1046,198.1L1046.5,200.8L1047,203.7L1047.5,206.8L1048,209.9L1048.5,213.0L1049,216.2L1049.5,219.4L1050,222.6L1050.5,225.9L1051,229.1L1051.5,232.4L1052,235.7L1052.5,238.9L1053,242.2L1069,242.2L1069.5,241.6L1070,240.7L1070.5,239.9L1071,239.1L1071.5,238.3L1072,237.5L1072.5,236.7L1073,235.9L1073.5,235.1L1074,234.4L1074.5,233.6L1075,232.8L1075.5,232.1L1076,231.4L1076.5,230.8L1077,230.3L1077.5,230.1L1078,230.2L1078.5,230.6L1079,231.2L1079.5,231.8L1080,232.5L1080.5,233.3L1081,234.0L1081.5,234.8L1082,235.6L1082.5,236.4L1083,237.2L1083.5,238.0L1084,238.8L1084.5,239.6L1085,240.4L1085.5,241.2L1086,242.0L1086.5,242.2L1224.5,242.2L1225,241.0L1225.5,239.1L1226,237.2L1226.5,235.3L1227,233.4L1227.5,231.5L1228,229.6L1228.5,227.7L1229,225.8L1229.5,224.0L1230,222.1L1230.5,220.3L1231,218.6L1231.5,216.9L1232,215.4L1232.5,214.2L1233,213.6L1233.5,213.6L1234,214.4L1234.5,215.7L1235,217.2L1235.5,218.9L1236,220.7L1236.5,222.5L1237,224.3L1237.5,226.2L1238,228.1L1238.5,230.0L1239,231.9L1239.5,233.8L1240,235.7L1240.5,237.6L1241,239.5L1241.5,241.4L1242,242.2L1270,242.2" stroke="#1f3fa8"/>
<path d="M8,242.2L158.5,242.2L159,241.3L159.5,239.8L160,238.3L160.5,236.8L161,235.3L161.5,233.9L162,232.4L162.5,230.9L163,229.5L163.5,228.0L164,226.6L164.5,225.2L165,223.8L165.5,222.6L166,221.4L166.5,220.5L167,219.9L167.5,220.0L168,220.6L168.5,221.6L169,222.8L169.5,224.1L170,225.5L170.5,226.9L171,228.3L171.5,229.8L172,231.2L172.5,232.7L173,234.2L173.5,235.6L174,237.1L174.5,238.6L175,240.1L175.5,241.6L176,242.2L227,242.2L227.5,241.9L228,240.4L228.5,238.9L229,237.4L229.5,235.9L230,234.5L230.5,233.0L231,231.5L231.5,230.0L232,228.6L232.5,227.2L233,225.8L233.5,224.4L234,223.1L234.5,221.8L235,220.8L235.5,220.1L236,219.9L236.5,220.3L237,221.2L237.5,222.3L238,223.6L238.5,224.9L239,226.3L239.5,227.7L240,229.2L240.5,230.6L241,232.1L241.5,233.6L242,235.1L242.5,236.5L243,238.0L243.5,239.5L244,241.0L244.5,242.2L261,242.2L261.5,241.7L262,240.3L262.5,239.0L263,237.6L263.5,236.3L264,234.9L264.5,233.6L265,232.3L265.5,230.9L266,229.6L266.5,228.3L267,227.1L267.5,225.8L268,224.6L268.5,223.6L269,222.7L269.5,222.1L270,222.0L270.5,222.5L271,223.4L271.5,224.4L272,225.6L272.5,226.8L273,228.1L273.5,229.4L274,230.7L274.5,232.0L275,233.3L275.5,234.7L276,236.0L276.5,237.3L277,238.7L277.5,240.0L278,241.4L278.5,242.2L295.5,242.2L296,241.3L296.5,239.7L297,238.1L297.5,236.5L298,235.0L298.5,233.4L299,231.9L299.5,230.3L300,228.8L300.5,227.3L301,225.8L301.5,224.3L302,222.9L302.5,221.5L303,220.3L303.5,219.3L304,218.8L304.5,218.8L305,219.5L305.5,220.5L306,221.8L306.5,223.1L307,224.6L307.5,226.1L308,227.6L308.5,229.1L309,230.6L309.5,232.2L310,233.7L310.5,235.3L311,236.9L311.5,238.4L312,240.0L312.5,241.6L313,242.2L313.5,240.3L314,238.3L314.5,236.4L315,234.4L315.5,232.5L316,230.6L316.5,228.7L317,226.8L317.5,224.9L318,223.0L318.5,221.2L319,219.4L319.5,217.6L320,216.0L320.5,214.6L321,213.6L321.5,213.2L322,213.6L322.5,214.6L323,216.0L323.5,217.6L324,219.4L324.5,221.2L325,223.0L325.5,224.9L326,226.8L326.5,228.7L327,230.6L327.5,232.5L328,234.4L328.5,236.4L329,238.3L329.5,240.3L330,242.2L502,242.2L502.5,241.9L503,240.4L503.5,238.8L504,237.3L504.5,235.7L505,234.2L505.5,232.7L506,231.2L506.5,229.7L507,228.2L507.5,226.7L508,225.2L508.5,223.8L509,222.5L509.5,221.2L510,220.1L510.5,219.4L511,219.2L511.5,219.6L512,220.5L512.5,221.7L513,223.0L513.5,224.4L514,225.8L514.5,227.3L515,228.8L515.5,230.3L516,231.8L516.5,233.3L517,234.8L517.5,236.4L518,237.9L518.5,239.4L519,241.0L519.5,242.2L553,242.2L553.5,241.2L554,239.5L554.5,237.9L555,236.2L555.5,234.6L556,232.9L556.5,231.3L557,229.7L557.5,228.0L558,226.4L558.5,224.8L559,223.3L559.5,221.8L560,220.4L560.5,219.1L561,218.0L561.5,217.5L562,217.5L562.5,218.2L563,219.3L563.5,220.6L564,222.1L564.5,223.6L565,225.2L565.5,226.8L566,228.4L566.5,230.0L567,231.6L567.5,233.3L568,234.9L568.5,236.6L569,238.2L569.5,239.9L570,241.5L570.5,242.2L760.5,242.2L761,240.4L761.5,238.2L762,236.0L762.5,233.8L763,231.6L763.5,229.4L764,227.2L764.5,225.0L765,222.9L765.5,220.7L766,218.6L766.5,216.6L767,214.6L767.5,212.7L768,211.0L768.5,209.7L769,209.1L769.5,209.4L770,210.4L770.5,212.0L771,213.8L771.5,215.7L772,217.8L772.5,219.9L773,222.0L773.5,224.2L774,226.3L774.5,228.5L775,230.7L775.5,232.9L776,235.1L776.5,237.3L777,239.5L777.5,241.8L778,242.2L794,242.2L794.5,241.9L795,240.5L795.5,239.1L796,237.7L796.5,236.2L797,234.8L797.5,233.4L798,232.0L798.5,230.6L799,229.3L799.5,227.9L800,226.6L800.5,225.3L801,224.0L801.5,222.8L802,221.9L802.5,221.2L803,221.0L803.5,221.4L804,222.2L804.5,223.3L805,224.5L805.5,225.8L806,227.1L806.5,228.4L807,229.8L807.5,231.2L808,232.6L808.5,234.0L809,235.4L809.5,236.8L810,238.2L810.5,239.6L811,241.1L811.5,242.2L846,242.2L846.5,241.0L847,239.4L847.5,237.9L848,236.4L848.5,234.8L849,233.3L849.5,231.8L850,230.3L850.5,228.8L851,227.3L851.5,225.8L852,224.4L852.5,223.0L853,221.7L853.5,220.5L854,219.6L854.5,219.2L855,219.4L855.5,220.1L856,221.2L856.5,222.5L857,223.8L857.5,225.2L858,226.7L858.5,228.2L859,229.7L859.5,231.2L860,232.7L860.5,234.2L861,235.7L861.5,237.3L862,238.8L862.5,240.4L863,241.9L863.5,242.2L864,240.3L864.5,238.4L865,236.4L865.5,234.5L866,232.6L866.5,230.7L867,228.8L867.5,226.9L868,225.1L868.5,223.2L869,221.4L869.5,219.6L870,217.9L870.5,216.3L871,214.9L871.5,213.9L872,213.5L872.5,213.9L873,214.9L873.5,216.3L874,217.9L874.5,219.6L875,221.4L875.5,223.2L876,225.1L876.5,226.9L877,228.8L877.5,230.7L878,232.6L878.5,234.5L879,236.4L879.5,238.4L880,240.3L880.5,242.2L1000.5,242.2L1001,241.3L1001.5,239.7L1002,238.1L1002.5,236.5L1003,235.0L1003.5,233.4L1004,231.9L1004.5,230.3L1005,228.8L1005.5,227.3L1006,225.8L1006.5,224.3L1007,222.9L1007.5,221.5L1008,220.3L1008.5,219.3L1009,218.8L1009.5,218.8L1010,219.5L1010.5,220.5L1011,221.8L1011.5,223.1L1012,224.6L1012.5,226.1L1013,227.6L1013.5,229.1L1014,230.6L1014.5,232.2L1015,233.7L1015.5,235.3L1016,236.9L1016.5,238.4L1017,240.0L1017.5,241.6L1018,242.2L1018.5,242.2L1019,240.8L1019.5,239.5L1020,238.1L1020.5,236.8L1021,235.5L1021.5,234.1L1022,232.8L1022.5,231.5L1023,230.1L1023.5,228.8L1024,227.6L1024.5,226.3L1025,225.1L1025.5,224.0L1026,223.0L1026.5,222.3L1027,222.0L1027.5,222.3L1028,223.0L1028.5,224.0L1029,225.1L1029.5,226.3L1030,227.6L1030.5,228.8L1031,230.1L1031.5,231.5L1032,232.8L1032.5,234.1L1033,235.5L1033.5,236.8L1034,238.1L1034.5,239.5L1035,240.8L1035.5,242.2L1104,242.2L1104.5,240.2L1105,238.2L1105.5,236.2L1106,234.2L1106.5,232.2L1107,230.2L1107.5,228.3L1108,226.3L1108.5,224.4L1109,222.4L1109.5,220.5L1110,218.7L1110.5,216.9L1111,215.2L1111.5,213.8L1112,212.7L1112.5,212.3L1113,212.7L1113.5,213.8L1114,215.2L1114.5,216.9L1115,218.7L1115.5,220.5L1116,222.4L1116.5,224.4L1117,226.3L1117.5,228.3L1118,230.2L1118.5,232.2L1119,234.2L1119.5,236.2L1120,238.2L1120.5,240.2L1121,242.2L1138.5,242.2L1139,241.8L1139.5,240.1L1140,238.3L1140.5,236.6L1141,234.8L1141.5,233.1L1142,231.3L1142.5,229.6L1143,227.9L1143.5,226.2L1144,224.5L1144.5,222.8L1145,221.2L1145.5,219.6L1146,218.2L1146.5,217.0L1147,216.1L1147.5,215.9L1148,216.4L1148.5,217.4L1149,218.7L1149.5,220.2L1150,221.8L1150.5,223.5L1151,225.1L1151.5,226.8L1152,228.6L1152.5,230.3L1153,232.0L1153.5,233.8L1154,235.5L1154.5,237.3L1155,239.0L1155.5,240.8L1156,242.2L1156.5,241.9L1157,240.3L1157.5,238.7L1158,237.1L1158.5,235.5L1159,233.9L1159.5,232.3L1160,230.7L1160.5,229.2L1161,227.6L1161.5,226.1L1162,224.6L1162.5,223.1L1163,221.7L1163.5,220.4L1164,219.3L1164.5,218.5L1165,218.3L1165.5,218.8L1166,219.7L1166.5,220.9L1167,222.2L1167.5,223.7L1168,225.2L1168.5,226.7L1169,228.2L1169.5,229.8L1170,231.4L1170.5,233.0L1171,234.5L1171.5,236.1L1172,237.7L1172.5,239.3L1173,240.9L1173.5,242.2L1207,242.2L1207.5,241.3L1208,239.7L1208.5,238.2L1209,236.7L1209.5,235.1L1210,233.6L1210.5,232.1L1211,230.6L1211.5,229.1L1212,227.6L1212.5,226.1L1213,224.7L1213.5,223.3L1214,221.9L1214.5,220.7L1215,219.8L1215.5,219.3L1216,219.3L1216.5,220.0L1217,221.0L1217.5,222.2L1218,223.5L1218.5,225.0L1219,226.4L1219.5,227.9L1220,229.4L1220.5,230.9L1221,232.4L1221.5,233.9L1222,235.4L1222.5,237.0L1223,238.5L1223.5,240.0L1224,241.6L1224.5,242.2L1241,242.2L1241.5,241.1L1242,239.3L1242.5,237.5L1243,235.7L1243.5,234.0L1244,232.2L1244.5,230.4L1245,228.6L1245.5,226.9L1246,225.2L1246.5,223.4L1247,221.8L1247.5,220.1L1248,218.6L1248.5,217.2L1249,216.1L1249.5,215.5L1250,215.5L1250.5,216.3L1251,217.5L1251.5,218.9L1252,220.5L1252.5,222.1L1253,223.8L1253.5,225.5L1254,227.2L1254.5,229.0L1255,230.8L1255.5,232.5L1256,234.3L1256.5,236.1L1257,237.9L1257.5,239.7L1258,241.5L1258.5,242.2L1259,242.2L1259.5,240.5L1260,238.9L1260.5,237.2L1261,235.5L1261.5,233.9L1262,232.2L1262.5,230.5L1263,228.9L1263.5,227.3L1264,225.7L1264.5,224.1L1265,222.5L1265.5,221.0L1266,219.6L1266.5,218.4L1267,217.5L1267.5,217.2L1268,217.5L1268.5,218.4L1269,219.6L1269.5,221.0L1270,222.5" stroke="#111111"/>
<path d="M8,241.5L72,241.5L72.5,241.2L73,239.7L73.5,238.1L74,236.6L74.5,235.0L75,233.5L75.5,232.0L76,230.5L76.5,229.0L77,227.5L77.5,226.0L78,224.5L78.5,223.1L79,221.8L79.5,220.5L80,219.4L80.5,218.7L81,218.5L81.5,218.9L82,219.8L82.5,221.0L83,222.3L83.5,223.7L84,225.1L84.5,226.6L85,228.1L85.5,229.6L86,231.1L86.5,232.6L87,234.1L87.5,235.7L88,237.2L88.5,238.7L89,240.3L89.5,241.5L90,240.9L90.5,239.9L91,238.9L91.5,237.9L92,236.9L92.5,235.9L93,234.9L93.5,234.0L94,233.0L94.5,232.0L95,231.1L95.5,230.1L96,229.2L96.5,228.4L97,227.6L97.5,227.0L98,226.6L98.5,226.7L99,227.1L99.5,227.7L100,228.5L100.5,229.4L101,230.3L101.5,231.3L102,232.2L102.5,233.2L103,234.2L103.5,235.1L104,236.1L104.5,237.1L105,238.1L105.5,239.1L106,240.1L106.5,241.1L107,241.3L107.5,240.3L108,239.3L108.5,238.3L109,237.3L109.5,236.3L110,235.3L110.5,234.4L111,233.4L111.5,232.4L112,231.5L112.5,230.5L113,229.6L113.5,228.7L114,227.9L114.5,227.2L115,226.7L115.5,226.6L116,226.9L116.5,227.5L117,228.3L117.5,229.3L118,230.2L118.5,231.2L119,232.3L119.5,233.3L120,234.3L120.5,235.4L121,236.5L121.5,237.5L122,238.6L122.5,239.7L123,240.7L123.5,241.0L124,239.2L124.5,237.5L125,235.8L125.5,234.0L126,232.3L126.5,230.6L127,228.9L127.5,227.2L128,225.5L128.5,223.9L129,222.3L129.5,220.8L130,219.4L130.5,218.3L131,217.5L131.5,217.5L132,218.0L132.5,219.0L133,220.3L133.5,221.7L134,223.1L134.5,224.6L135,226.2L135.5,227.7L136,229.3L136.5,230.9L137,232.5L137.5,234.1L138,235.7L138.5,237.3L139,238.9L139.5,240.5L140,241.5L175,241.5L175.5,239.4L176,237.4L176.5,235.3L177,233.2L177.5,231.2L178,229.1L178.5,227.1L179,225.1L179.5,223.1L180,221.1L180.5,219.1L181,217.2L181.5,215.3L182,213.6L182.5,212.1L183,211.0L183.5,210.6L184,211.0L184.5,212.1L185,213.6L185.5,215.3L186,217.2L186.5,219.1L187,221.1L187.5,223.1L188,225.1L188.5,227.1L189,229.1L189.5,231.2L190,233.2L190.5,235.3L191,237.4L191.5,239.4L192,241.5L244.5,241.5L245,241.1L245.5,240.0L246,238.9L246.5,237.8L247,236.7L247.5,235.7L248,234.6L248.5,233.5L249,232.5L249.5,231.4L250,230.4L250.5,229.4L251,228.4L251.5,227.4L252,226.5L252.5,225.8L253,225.4L253.5,225.3L254,225.7L254.5,226.4L255,227.2L255.5,228.2L256,229.1L256.5,230.2L257,231.2L257.5,232.3L258,233.3L258.5,234.4L259,235.4L259.5,236.5L260,237.6L260.5,238.7L261,239.8L261.5,240.8L262,241.5L279,241.5L279.5,240.9L280,239.9L280.5,238.9L281,237.9L281.5,236.9L282,235.9L282.5,234.9L283,234.0L283.5,233.0L284,232.0L284.5,231.1L285,230.1L285.5,229.2L286,228.4L286.5,227.6L287,227.0L287.5,226.6L288,226.7L288.5,227.1L289,227.7L289.5,228.5L290,229.4L290.5,230.3L291,231.3L291.5,232.2L292,233.2L292.5,234.2L293,235.1L293.5,236.1L294,237.1L294.5,238.1L295,239.1L295.5,240.1L296,241.1L296.5,241.5L398,241.5L398.5,240.9L399,238.0L399.5,235.1L400,232.1L400.5,229.2L401,226.3L401.5,223.4L402,220.6L402.5,217.7L403,214.8L403.5,212.0L404,209.3L404.5,206.6L405,204.0L405.5,201.6L406,199.6L406.5,198.2L407,197.8L407.5,198.6L408,200.3L408.5,202.5L409,205.0L409.5,207.6L410,210.4L410.5,213.2L411,216.0L411.5,218.8L412,221.7L412.5,224.6L413,227.5L413.5,230.4L414,233.3L414.5,236.2L415,239.2L415.5,241.5L432.5,241.5L433,239.9L433.5,237.2L434,234.5L434.5,231.8L435,229.2L435.5,226.5L436,223.9L436.5,221.2L437,218.6L437.5,216.0L438,213.4L438.5,210.9L439,208.5L439.5,206.2L440,204.1L440.5,202.4L441,201.5L441.5,201.6L442,202.7L442.5,204.5L443,206.6L443.5,209.0L444,211.4L444.5,214.0L445,216.5L445.5,219.1L446,221.8L446.5,224.4L447,227.0L447.5,229.7L448,232.4L448.5,235.1L449,237.7L449.5,240.4L450,241.5L467.5,241.5L468,240.3L468.5,238.7L469,237.2L469.5,235.7L470,234.1L470.5,232.6L471,231.1L471.5,229.6L472,228.1L472.5,226.6L473,225.1L473.5,223.7L474,222.3L474.5,221.0L475,219.8L475.5,218.9L476,218.5L476.5,218.7L477,219.4L477.5,220.5L478,221.8L478.5,223.1L479,224.5L479.5,226.0L480,227.5L480.5,229.0L481,230.5L481.5,232.0L482,233.5L482.5,235.0L483,236.6L483.5,238.1L484,239.7L484.5,241.2L485,241.5L622,241.5L622.5,238.9L623,235.7L623.5,232.5L624,229.3L624.5,226.1L625,222.9L625.5,219.8L626,216.6L626.5,213.5L627,210.4L627.5,207.3L628,204.3L628.5,201.4L629,198.7L629.5,196.3L630,194.4L630.5,193.5L631,193.9L631.5,195.5L632,197.7L632.5,200.3L633,203.1L633.5,206.1L634,209.1L634.5,212.2L635,215.3L635.5,218.5L636,221.7L636.5,224.8L637,228.0L637.5,231.2L638,234.4L638.5,237.6L639,240.9L639.5,241.5L656,241.5L656.5,240.8L657,239.0L657.5,237.2L658,235.4L658.5,233.6L659,231.8L659.5,230.1L660,228.3L660.5,226.5L661,224.8L661.5,223.1L662,221.4L662.5,219.8L663,218.2L663.5,216.8L664,215.6L664.5,214.8L665,214.8L665.5,215.4L666,216.5L666.5,217.9L667,219.4L667.5,221.1L668,222.7L668.5,224.5L669,226.2L669.5,227.9L670,229.7L670.5,231.5L671,233.3L671.5,235.0L672,236.8L672.5,238.6L673,240.4L673.5,241.5L811.5,241.5L812,240.8L812.5,239.8L813,238.7L813.5,237.6L814,236.5L814.5,235.4L815,234.4L815.5,233.3L816,232.3L816.5,231.2L817,230.2L817.5,229.1L818,228.2L818.5,227.2L819,226.4L819.5,225.7L820,225.3L820.5,225.4L821,225.8L821.5,226.5L822,227.4L822.5,228.4L823,229.4L823.5,230.4L824,231.4L824.5,232.5L825,233.5L825.5,234.6L826,235.7L826.5,236.7L827,237.8L827.5,238.9L828,240.0L828.5,241.1L829,241.1L829.5,240.1L830,239.1L830.5,238.1L831,237.1L831.5,236.1L832,235.1L832.5,234.2L833,233.2L833.5,232.2L834,231.3L834.5,230.3L835,229.4L835.5,228.5L836,227.7L836.5,227.1L837,226.7L837.5,226.6L838,227.0L838.5,227.6L839,228.4L839.5,229.2L840,230.1L840.5,231.1L841,232.0L841.5,233.0L842,234.0L842.5,234.9L843,235.9L843.5,236.9L844,237.9L844.5,238.9L845,239.9L845.5,240.9L846,241.5L914.5,241.5L915,240.1L915.5,238.3L916,236.6L916.5,234.8L917,233.1L917.5,231.3L918,229.6L918.5,227.9L919,226.1L919.5,224.4L920,222.8L920.5,221.1L921,219.5L921.5,218.0L922,216.7L922.5,215.7L923,215.2L923.5,215.4L924,216.3L924.5,217.5L925,218.9L925.5,220.5L926,222.1L926.5,223.8L927,225.5L927.5,227.2L928,228.9L928.5,230.6L929,232.4L929.5,234.1L930,235.9L930.5,237.6L931,239.4L931.5,241.1L932,241.5L948.5,241.5L949,238.6L949.5,234.9L950,231.3L950.5,227.6L951,224.0L951.5,220.3L952,216.7L952.5,213.1L953,209.6L953.5,206.0L954,202.5L954.5,199.1L955,195.8L955.5,192.7L956,190.0L956.5,187.8L957,186.8L957.5,187.3L958,189.0L958.5,191.6L959,194.6L959.5,197.8L960,201.2L960.5,204.6L961,208.1L961.5,211.7L962,215.3L962.5,218.9L963,222.5L963.5,226.1L964,229.8L964.5,233.4L965,237.1L965.5,240.8L966,241.5L983.5,241.5L984,240.7L984.5,239.7L985,238.7L985.5,237.7L986,236.7L986.5,235.7L987,234.8L987.5,233.8L988,232.8L988.5,231.8L989,230.9L989.5,230.0L990,229.1L990.5,228.2L991,227.5L991.5,226.9L992,226.6L992.5,226.7L993,227.2L993.5,227.9L994,228.7L994.5,229.6L995,230.5L995.5,231.5L996,232.4L996.5,233.4L997,234.4L997.5,235.3L998,236.3L998.5,237.3L999,238.3L999.5,239.3L1000,240.3L1000.5,241.3L1001,241.5L1087,241.5L1087.5,240.6L1088,239.5L1088.5,238.5L1089,237.4L1089.5,236.3L1090,235.2L1090.5,234.2L1091,233.1L1091.5,232.0L1092,231.0L1092.5,230.0L1093,228.9L1093.5,228.0L1094,227.1L1094.5,226.2L1095,225.6L1095.5,225.3L1096,225.4L1096.5,226.0L1097,226.7L1097.5,227.6L1098,228.6L1098.5,229.6L1099,230.6L1099.5,231.6L1100,232.7L1100.5,233.7L1101,234.8L1101.5,235.9L1102,237.0L1102.5,238.0L1103,239.1L1103.5,240.2L1104,241.3L1104.5,241.5L1173,241.5L1173.5,240.8L1174,239.0L1174.5,237.2L1175,235.4L1175.5,233.6L1176,231.8L1176.5,230.1L1177,228.3L1177.5,226.5L1178,224.8L1178.5,223.1L1179,221.4L1179.5,219.8L1180,218.2L1180.5,216.8L1181,215.6L1181.5,214.8L1182,214.8L1182.5,215.4L1183,216.5L1183.5,217.9L1184,219.4L1184.5,221.1L1185,222.7L1185.5,224.5L1186,226.2L1186.5,227.9L1187,229.7L1187.5,231.5L1188,233.3L1188.5,235.0L1189,236.8L1189.5,238.6L1190,240.4L1190.5,241.5L1270,241.5" stroke="#e0207a"/>
</g>
<line x1="133.5" y1="134" x2="133.5" y2="242.5" stroke="#1a8ee0" stroke-width="1" stroke-dasharray="1.3,1.2"/>
<line x1="477.5" y1="134" x2="477.5" y2="242.5" stroke="#1a8ee0" stroke-width="1" stroke-dasharray="1.3,1.2"/>
<line x1="821.5" y1="134" x2="821.5" y2="242.5" stroke="#1a8ee0" stroke-width="1" stroke-dasharray="1.3,1.2"/>
<line x1="1165.5" y1="134" x2="1165.5" y2="242.5" stroke="#1a8ee0" stroke-width="1" stroke-dasharray="1.3,1.2"/>
<use href="#gA" x="12.8" y="253.1" stroke="#3c9a2c"/>
<use href="#gC" x="30.0" y="253.1" stroke="#3848b8"/>
<use href="#gC" x="47.2" y="253.1" stroke="#3848b8"/>
<use href="#gC" x="64.4" y="253.1" stroke="#3848b8"/>
<use href="#gT" x="81.6" y="253.1" stroke="#d83070"/>
<use href="#gT" x="98.8" y="253.1" stroke="#d83070"/>
<use href="#gT" x="116.0" y="253.1" stroke="#d83070"/>
<use href="#gT" x="133.2" y="253.1" stroke="#d83070"/>
<use href="#gA" x="150.4" y="253.1" stroke="#3c9a2c"/>
<use href="#gG" x="167.6" y="253.1" stroke="#404040"/>
<use href="#gT" x="184.8" y="253.1" stroke="#d83070"/>
<use href="#gC" x="202.0" y="253.1" stroke="#3848b8"/>
<use href="#gA" x="219.2" y="253.1" stroke="#3c9a2c"/>
<use href="#gG" x="236.4" y="253.1" stroke="#404040"/>
<use href="#gT" x="253.6" y="253.1" stroke="#d83070"/>
<use href="#gG" x="270.8" y="253.1" stroke="#404040"/>
<use href="#gT" x="288.0" y="253.1" stroke="#d83070"/>
<use href="#gG" x="305.2" y="253.1" stroke="#404040"/>
<use href="#gG" x="322.4" y="253.1" stroke="#404040"/>
<use href="#gA" x="339.6" y="253.1" stroke="#3c9a2c"/>
<use href="#gA" x="356.8" y="253.1" stroke="#3c9a2c"/>
<use href="#gA" x="374.0" y="253.1" stroke="#3c9a2c"/>
<use href="#gA" x="391.2" y="253.1" stroke="#3c9a2c"/>
<use href="#gT" x="408.4" y="253.1" stroke="#d83070"/>
<use href="#gC" x="425.6" y="253.1" stroke="#3848b8"/>
<use href="#gT" x="442.8" y="253.1" stroke="#d83070"/>
<use href="#gC" x="460.0" y="253.1" stroke="#3848b8"/>
<use href="#gT" x="477.2" y="253.1" stroke="#d83070"/>
<use href="#gA" x="494.4" y="253.1" stroke="#3c9a2c"/>
<use href="#gG" x="511.6" y="253.1" stroke="#404040"/>
<use href="#gC" x="528.8" y="253.1" stroke="#3848b8"/>
<use href="#gA" x="546.0" y="253.1" stroke="#3c9a2c"/>
<use href="#gG" x="563.2" y="253.1" stroke="#404040"/>
<use href="#gA" x="580.4" y="253.1" stroke="#3c9a2c"/>
<use href="#gC" x="597.6" y="253.1" stroke="#3848b8"/>
<use href="#gA" x="614.8" y="253.1" stroke="#3c9a2c"/>
<use href="#gT" x="632.0" y="253.1" stroke="#d83070"/>
<use href="#gC" x="649.2" y="253.1" stroke="#3848b8"/>
<use href="#gT" x="666.4" y="253.1" stroke="#d83070"/>
<use href="#gA" x="683.6" y="253.1" stroke="#3c9a2c"/>
<use href="#gC" x="700.8" y="253.1" stroke="#3848b8"/>
<use href="#gC" x="718.0" y="253.1" stroke="#3848b8"/>
<use href="#gA" x="735.2" y="253.1" stroke="#3c9a2c"/>
<use href="#gA" x="752.4" y="253.1" stroke="#3c9a2c"/>
<use href="#gG" x="769.6" y="253.1" stroke="#404040"/>
<use href="#gA" x="786.8" y="253.1" stroke="#3c9a2c"/>
<use href="#gG" x="804.0" y="253.1" stroke="#404040"/>
<use href="#gT" x="821.2" y="253.1" stroke="#d83070"/>
<use href="#gT" x="838.4" y="253.1" stroke="#d83070"/>
<use href="#gG" x="855.6" y="253.1" stroke="#404040"/>
<use href="#gG" x="872.8" y="253.1" stroke="#404040"/>
<use href="#gA" x="890.0" y="253.1" stroke="#3c9a2c"/>
<use href="#gA" x="907.2" y="253.1" stroke="#3c9a2c"/>
<use href="#gT" x="924.4" y="253.1" stroke="#d83070"/>
<use href="#gA" x="941.6" y="253.1" stroke="#3c9a2c"/>
<use href="#gT" x="958.8" y="253.1" stroke="#d83070"/>
<use href="#gC" x="976.0" y="253.1" stroke="#3848b8"/>
<use href="#gT" x="993.2" y="253.1" stroke="#d83070"/>
<use href="#gG" x="1010.4" y="253.1" stroke="#404040"/>
<use href="#gG" x="1027.6" y="253.1" stroke="#404040"/>
<use href="#gC" x="1044.8" y="253.1" stroke="#3848b8"/>
<use href="#gA" x="1062.0" y="253.1" stroke="#3c9a2c"/>
<use href="#gC" x="1079.2" y="253.1" stroke="#3848b8"/>
<use href="#gT" x="1096.4" y="253.1" stroke="#d83070"/>
<use href="#gG" x="1113.6" y="253.1" stroke="#404040"/>
<use href="#gA" x="1130.8" y="253.1" stroke="#3c9a2c"/>
<use href="#gG" x="1148.0" y="253.1" stroke="#404040"/>
<use href="#gG" x="1165.2" y="253.1" stroke="#404040"/>
<use href="#gT" x="1182.4" y="253.1" stroke="#d83070"/>
<use href="#gA" x="1199.6" y="253.1" stroke="#3c9a2c"/>
<use href="#gG" x="1216.8" y="253.1" stroke="#404040"/>
<use href="#gC" x="1234.0" y="253.1" stroke="#3848b8"/>
<use href="#gG" x="1251.2" y="253.1" stroke="#404040"/>
<line x1="553.5" y1="104" x2="553.5" y2="255.5" stroke="#222" stroke-width="1"/>
<path d="M9.5,133 V255.5 H1266.5 V133" fill="none" stroke="#000" stroke-width="1.3"/>
<rect x="9" y="132" width="1258" height="2" fill="#000"/>
<rect x="9" y="254.5" width="1258" height="2" fill="#000"/>
<path d="M1.5,256.5 V133 H9" fill="none" stroke="#000" stroke-width="1"/>
<text x="581.5" y="301.7" class="ttl" textLength="229" lengthAdjust="spacingAndGlyphs">UBAP2&#160;&#160;chr9_33997910+5’LTR</text>
<line x1="0" y1="341.5" x2="1266" y2="341.5" stroke="#111" stroke-width="1.3"/>
<line x1="12.5" y1="338" x2="12.5" y2="341.5" stroke="#000" stroke-width="1"/>
<line x1="29.5" y1="338" x2="29.5" y2="341.5" stroke="#000" stroke-width="1"/>
<line x1="46.5" y1="338" x2="46.5" y2="341.5" stroke="#000" stroke-width="1"/>
<line x1="63.5" y1="338" x2="63.5" y2="341.5" stroke="#000" stroke-width="1"/>
<line x1="80.5" y1="335" x2="80.5" y2="341.5" stroke="#000" stroke-width="1"/>
<line x1="98.5" y1="338" x2="98.5" y2="341.5" stroke="#000" stroke-width="1"/>
<line x1="115.5" y1="338" x2="115.5" y2="341.5" stroke="#000" stroke-width="1"/>
<line x1="132.5" y1="338" x2="132.5" y2="341.5" stroke="#000" stroke-width="1"/>
<line x1="149.5" y1="338" x2="149.5" y2="341.5" stroke="#000" stroke-width="1"/>
<line x1="166.5" y1="335" x2="166.5" y2="341.5" stroke="#000" stroke-width="1"/>
<text x="167.1" y="333" class="num" text-anchor="middle">160</text>
<line x1="184.5" y1="338" x2="184.5" y2="341.5" stroke="#000" stroke-width="1"/>
<line x1="201.5" y1="338" x2="201.5" y2="341.5" stroke="#000" stroke-width="1"/>
<line x1="218.5" y1="338" x2="218.5" y2="341.5" stroke="#000" stroke-width="1"/>
<line x1="235.5" y1="338" x2="235.5" y2="341.5" stroke="#000" stroke-width="1"/>
<line x1="252.5" y1="335" x2="252.5" y2="341.5" stroke="#000" stroke-width="1"/>
<line x1="270.5" y1="338" x2="270.5" y2="341.5" stroke="#000" stroke-width="1"/>
<line x1="287.5" y1="338" x2="287.5" y2="341.5" stroke="#000" stroke-width="1"/>
<line x1="304.5" y1="338" x2="304.5" y2="341.5" stroke="#000" stroke-width="1"/>
<line x1="321.5" y1="338" x2="321.5" y2="341.5" stroke="#000" stroke-width="1"/>
<line x1="338.5" y1="335" x2="338.5" y2="341.5" stroke="#000" stroke-width="1"/>
<text x="339.1" y="333" class="num" text-anchor="middle">170</text>
<line x1="356.5" y1="338" x2="356.5" y2="341.5" stroke="#000" stroke-width="1"/>
<line x1="373.5" y1="338" x2="373.5" y2="341.5" stroke="#000" stroke-width="1"/>
<line x1="390.5" y1="338" x2="390.5" y2="341.5" stroke="#000" stroke-width="1"/>
<line x1="407.5" y1="338" x2="407.5" y2="341.5" stroke="#000" stroke-width="1"/>
<line x1="424.5" y1="335" x2="424.5" y2="341.5" stroke="#000" stroke-width="1"/>
<line x1="442.5" y1="338" x2="442.5" y2="341.5" stroke="#000" stroke-width="1"/>
<line x1="459.5" y1="338" x2="459.5" y2="341.5" stroke="#000" stroke-width="1"/>
<line x1="476.5" y1="338" x2="476.5" y2="341.5" stroke="#000" stroke-width="1"/>
<line x1="493.5" y1="338" x2="493.5" y2="341.5" stroke="#000" stroke-width="1"/>
<line x1="510.5" y1="335" x2="510.5" y2="341.5" stroke="#000" stroke-width="1"/>
<text x="511.1" y="333" class="num" text-anchor="middle">180</text>
<line x1="528.5" y1="338" x2="528.5" y2="341.5" stroke="#000" stroke-width="1"/>
<line x1="545.5" y1="338" x2="545.5" y2="341.5" stroke="#000" stroke-width="1"/>
<line x1="562.5" y1="338" x2="562.5" y2="341.5" stroke="#000" stroke-width="1"/>
<line x1="579.5" y1="338" x2="579.5" y2="341.5" stroke="#000" stroke-width="1"/>
<line x1="596.5" y1="335" x2="596.5" y2="341.5" stroke="#000" stroke-width="1"/>
<line x1="614.5" y1="338" x2="614.5" y2="341.5" stroke="#000" stroke-width="1"/>
<line x1="631.5" y1="338" x2="631.5" y2="341.5" stroke="#000" stroke-width="1"/>
<line x1="648.5" y1="338" x2="648.5" y2="341.5" stroke="#000" stroke-width="1"/>
<line x1="665.5" y1="338" x2="665.5" y2="341.5" stroke="#000" stroke-width="1"/>
<line x1="682.5" y1="335" x2="682.5" y2="341.5" stroke="#000" stroke-width="1"/>
<text x="683.1" y="333" class="num" text-anchor="middle">190</text>
<line x1="700.5" y1="338" x2="700.5" y2="341.5" stroke="#000" stroke-width="1"/>
<line x1="717.5" y1="338" x2="717.5" y2="341.5" stroke="#000" stroke-width="1"/>
<line x1="734.5" y1="338" x2="734.5" y2="341.5" stroke="#000" stroke-width="1"/>
<line x1="751.5" y1="338" x2="751.5" y2="341.5" stroke="#000" stroke-width="1"/>
<line x1="768.5" y1="335" x2="768.5" y2="341.5" stroke="#000" stroke-width="1"/>
<line x1="786.5" y1="338" x2="786.5" y2="341.5" stroke="#000" stroke-width="1"/>
<line x1="803.5" y1="338" x2="803.5" y2="341.5" stroke="#000" stroke-width="1"/>
<line x1="820.5" y1="338" x2="820.5" y2="341.5" stroke="#000" stroke-width="1"/>
<line x1="837.5" y1="338" x2="837.5" y2="341.5" stroke="#000" stroke-width="1"/>
<line x1="854.5" y1="335" x2="854.5" y2="341.5" stroke="#000" stroke-width="1"/>
<text x="855.1" y="333" class="num" text-anchor="middle">200</text>
<line x1="872.5" y1="338" x2="872.5" y2="341.5" stroke="#000" stroke-width="1"/>
<line x1="889.5" y1="338" x2="889.5" y2="341.5" stroke="#000" stroke-width="1"/>
<line x1="906.5" y1="338" x2="906.5" y2="341.5" stroke="#000" stroke-width="1"/>
<line x1="923.5" y1="338" x2="923.5" y2="341.5" stroke="#000" stroke-width="1"/>
<line x1="940.5" y1="335" x2="940.5" y2="341.5" stroke="#000" stroke-width="1"/>
<line x1="958.5" y1="338" x2="958.5" y2="341.5" stroke="#000" stroke-width="1"/>
<line x1="975.5" y1="338" x2="975.5" y2="341.5" stroke="#000" stroke-width="1"/>
<line x1="992.5" y1="338" x2="992.5" y2="341.5" stroke="#000" stroke-width="1"/>
<line x1="1009.5" y1="338" x2="1009.5" y2="341.5" stroke="#000" stroke-width="1"/>
<line x1="1026.5" y1="335" x2="1026.5" y2="341.5" stroke="#000" stroke-width="1"/>
<text x="1027.1" y="333" class="num" text-anchor="middle">210</text>
<line x1="1044.5" y1="338" x2="1044.5" y2="341.5" stroke="#000" stroke-width="1"/>
<line x1="1061.5" y1="338" x2="1061.5" y2="341.5" stroke="#000" stroke-width="1"/>
<line x1="1078.5" y1="338" x2="1078.5" y2="341.5" stroke="#000" stroke-width="1"/>
<line x1="1095.5" y1="338" x2="1095.5" y2="341.5" stroke="#000" stroke-width="1"/>
<line x1="1112.5" y1="335" x2="1112.5" y2="341.5" stroke="#000" stroke-width="1"/>
<line x1="1130.5" y1="338" x2="1130.5" y2="341.5" stroke="#000" stroke-width="1"/>
<line x1="1147.5" y1="338" x2="1147.5" y2="341.5" stroke="#000" stroke-width="1"/>
<line x1="1164.5" y1="338" x2="1164.5" y2="341.5" stroke="#000" stroke-width="1"/>
<line x1="1181.5" y1="338" x2="1181.5" y2="341.5" stroke="#000" stroke-width="1"/>
<line x1="1198.5" y1="335" x2="1198.5" y2="341.5" stroke="#000" stroke-width="1"/>
<text x="1199.1" y="333" class="num" text-anchor="middle">220</text>
<line x1="1216.5" y1="338" x2="1216.5" y2="341.5" stroke="#000" stroke-width="1"/>
<line x1="1233.5" y1="338" x2="1233.5" y2="341.5" stroke="#000" stroke-width="1"/>
<line x1="1250.5" y1="338" x2="1250.5" y2="341.5" stroke="#000" stroke-width="1"/>
<use href="#gG" x="12.8" y="354.3" stroke="#1a1a1a"/>
<use href="#gG" x="12.8" y="371.5" stroke="#1a1a1a"/>
<use href="#gA" x="30.0" y="354.3" stroke="#1a1a1a"/>
<use href="#gA" x="30.0" y="371.5" stroke="#1a1a1a"/>
<use href="#gC" x="47.2" y="354.3" stroke="#1a1a1a"/>
<use href="#gC" x="47.2" y="371.5" stroke="#1a1a1a"/>
<use href="#gC" x="64.4" y="354.3" stroke="#1a1a1a"/>
<use href="#gC" x="64.4" y="371.5" stroke="#1a1a1a"/>
<use href="#gT" x="81.6" y="354.3" stroke="#1a1a1a"/>
<use href="#gT" x="81.6" y="371.5" stroke="#1a1a1a"/>
<use href="#gT" x="98.8" y="354.3" stroke="#1a1a1a"/>
<use href="#gT" x="98.8" y="371.5" stroke="#1a1a1a"/>
<use href="#gT" x="116.0" y="354.3" stroke="#1a1a1a"/>
<use href="#gT" x="116.0" y="371.5" stroke="#1a1a1a"/>
<use href="#gA" x="133.2" y="354.3" stroke="#1a1a1a"/>
<use href="#gA" x="133.2" y="371.5" stroke="#1a1a1a"/>
<use href="#gC" x="150.4" y="354.3" stroke="#1a1a1a"/>
<use href="#gC" x="150.4" y="371.5" stroke="#1a1a1a"/>
<use href="#gT" x="167.6" y="354.3" stroke="#1a1a1a"/>
<use href="#gT" x="167.6" y="371.5" stroke="#1a1a1a"/>
<use href="#gC" x="184.8" y="354.3" stroke="#1a1a1a"/>
<use href="#gC" x="184.8" y="371.5" stroke="#1a1a1a"/>
<use href="#gC" x="202.0" y="354.3" stroke="#1a1a1a"/>
<use href="#gC" x="202.0" y="371.5" stroke="#1a1a1a"/>
<use href="#gA" x="219.2" y="354.3" stroke="#1a1a1a"/>
<use href="#gA" x="219.2" y="371.5" stroke="#1a1a1a"/>
<use href="#gA" x="236.4" y="354.3" stroke="#1a1a1a"/>
<use href="#gA" x="236.4" y="371.5" stroke="#1a1a1a"/>
<use href="#gA" x="253.6" y="354.3" stroke="#1a1a1a"/>
<use href="#gA" x="253.6" y="371.5" stroke="#1a1a1a"/>
<use href="#gG" x="270.8" y="354.3" stroke="#1a1a1a"/>
<use href="#gG" x="270.8" y="371.5" stroke="#1a1a1a"/>
<use href="#gA" x="288.0" y="354.3" stroke="#1a1a1a"/>
<use href="#gA" x="288.0" y="371.5" stroke="#1a1a1a"/>
<use href="#gA" x="305.2" y="354.3" stroke="#1a1a1a"/>
<use href="#gA" x="305.2" y="371.5" stroke="#1a1a1a"/>
<use href="#gC" x="322.4" y="354.3" stroke="#1a1a1a"/>
<use href="#gC" x="322.4" y="371.5" stroke="#1a1a1a"/>
<use href="#gA" x="339.6" y="354.3" stroke="#1a1a1a"/>
<use href="#gA" x="339.6" y="371.5" stroke="#1a1a1a"/>
<use href="#gA" x="356.8" y="354.3" stroke="#1a1a1a"/>
<use href="#gA" x="356.8" y="371.5" stroke="#1a1a1a"/>
<use href="#gT" x="374.0" y="354.3" stroke="#1a1a1a"/>
<use href="#gT" x="374.0" y="371.5" stroke="#1a1a1a"/>
<use href="#gT" x="391.2" y="354.3" stroke="#1a1a1a"/>
<use href="#gT" x="391.2" y="371.5" stroke="#1a1a1a"/>
<use href="#gA" x="408.4" y="354.3" stroke="#1a1a1a"/>
<use href="#gA" x="408.4" y="371.5" stroke="#1a1a1a"/>
<use href="#gT" x="425.6" y="354.3" stroke="#1a1a1a"/>
<use href="#gT" x="425.6" y="371.5" stroke="#1a1a1a"/>
<use href="#gT" x="442.8" y="354.3" stroke="#1a1a1a"/>
<use href="#gT" x="442.8" y="371.5" stroke="#1a1a1a"/>
<use href="#gA" x="460.0" y="354.3" stroke="#1a1a1a"/>
<use href="#gA" x="460.0" y="371.5" stroke="#1a1a1a"/>
<use href="#gG" x="477.2" y="354.3" stroke="#1a1a1a"/>
<use href="#gG" x="477.2" y="371.5" stroke="#1a1a1a"/>
<use href="#gA" x="494.4" y="354.3" stroke="#1a1a1a"/>
<use href="#gA" x="494.4" y="371.5" stroke="#1a1a1a"/>
<use href="#gC" x="511.6" y="354.3" stroke="#1a1a1a"/>
<use href="#gC" x="511.6" y="371.5" stroke="#1a1a1a"/>
<use href="#gG" x="528.8" y="354.3" stroke="#1a1a1a"/>
<use href="#gG" x="528.8" y="371.5" stroke="#1a1a1a"/>
<use href="#gA" x="546.0" y="354.3" stroke="#1a1a1a"/>
<use href="#gA" x="546.0" y="371.5" stroke="#1a1a1a"/>
<use href="#gC" x="563.2" y="354.3" stroke="#1a1a1a"/>
<use href="#gC" x="563.2" y="371.5" stroke="#1a1a1a"/>
<use href="#gA" x="580.4" y="354.3" stroke="#1a1a1a"/>
<use href="#gA" x="580.4" y="371.5" stroke="#1a1a1a"/>
<use href="#gT" x="597.6" y="354.3" stroke="#1a1a1a"/>
<use href="#gT" x="597.6" y="371.5" stroke="#1a1a1a"/>
<use href="#gT" x="614.8" y="354.3" stroke="#1a1a1a"/>
<use href="#gT" x="614.8" y="371.5" stroke="#1a1a1a"/>
<use href="#gG" x="632.0" y="354.3" stroke="#1a1a1a"/>
<use href="#gG" x="632.0" y="371.5" stroke="#1a1a1a"/>
<use href="#gG" x="649.2" y="354.3" stroke="#1a1a1a"/>
<use href="#gG" x="649.2" y="371.5" stroke="#1a1a1a"/>
<use href="#gA" x="666.4" y="354.3" stroke="#1a1a1a"/>
<use href="#gA" x="666.4" y="371.5" stroke="#1a1a1a"/>
<use href="#gA" x="683.6" y="354.3" stroke="#1a1a1a"/>
<use href="#gA" x="683.6" y="371.5" stroke="#1a1a1a"/>
<use href="#gG" x="700.8" y="354.3" stroke="#1a1a1a"/>
<use href="#gG" x="700.8" y="371.5" stroke="#1a1a1a"/>
<use href="#gG" x="718.0" y="354.3" stroke="#1a1a1a"/>
<use href="#gG" x="718.0" y="371.5" stroke="#1a1a1a"/>
<use href="#gG" x="735.2" y="354.3" stroke="#1a1a1a"/>
<use href="#gG" x="735.2" y="371.5" stroke="#1a1a1a"/>
<use href="#gC" x="752.4" y="354.3" stroke="#1a1a1a"/>
<use href="#gC" x="752.4" y="371.5" stroke="#1a1a1a"/>
<use href="#gT" x="769.6" y="354.3" stroke="#1a1a1a"/>
<use href="#gT" x="769.6" y="371.5" stroke="#1a1a1a"/>
<use href="#gA" x="786.8" y="354.3" stroke="#1a1a1a"/>
<use href="#gA" x="786.8" y="371.5" stroke="#1a1a1a"/>
<use href="#gA" x="804.0" y="354.3" stroke="#1a1a1a"/>
<use href="#gA" x="804.0" y="371.5" stroke="#1a1a1a"/>
<use href="#gT" x="821.2" y="354.3" stroke="#1a1a1a"/>
<use href="#gT" x="821.2" y="371.5" stroke="#1a1a1a"/>
<use href="#gT" x="838.4" y="354.3" stroke="#1a1a1a"/>
<use href="#gT" x="838.4" y="371.5" stroke="#1a1a1a"/>
<use href="#gC" x="855.6" y="354.3" stroke="#1a1a1a"/>
<use href="#gC" x="855.6" y="371.5" stroke="#1a1a1a"/>
<use href="#gA" x="872.8" y="354.3" stroke="#1a1a1a"/>
<use href="#gA" x="872.8" y="371.5" stroke="#1a1a1a"/>
<use href="#gC" x="890.0" y="354.3" stroke="#1a1a1a"/>
<use href="#gC" x="890.0" y="371.5" stroke="#1a1a1a"/>
<use href="#gT" x="907.2" y="354.3" stroke="#1a1a1a"/>
<use href="#gT" x="907.2" y="371.5" stroke="#1a1a1a"/>
<use href="#gC" x="924.4" y="354.3" stroke="#1a1a1a"/>
<use href="#gC" x="924.4" y="371.5" stroke="#1a1a1a"/>
<use href="#gC" x="941.6" y="354.3" stroke="#1a1a1a"/>
<use href="#gC" x="941.6" y="371.5" stroke="#1a1a1a"/>
<use href="#gC" x="958.8" y="354.3" stroke="#1a1a1a"/>
<use href="#gC" x="958.8" y="371.5" stroke="#1a1a1a"/>
<use href="#gA" x="976.0" y="354.3" stroke="#1a1a1a"/>
<use href="#gA" x="976.0" y="371.5" stroke="#1a1a1a"/>
<use href="#gA" x="993.2" y="354.3" stroke="#1a1a1a"/>
<use href="#gA" x="993.2" y="371.5" stroke="#1a1a1a"/>
<use href="#gA" x="1010.4" y="354.3" stroke="#1a1a1a"/>
<use href="#gA" x="1010.4" y="371.5" stroke="#1a1a1a"/>
<use href="#gG" x="1027.6" y="354.3" stroke="#1a1a1a"/>
<use href="#gG" x="1027.6" y="371.5" stroke="#1a1a1a"/>
<use href="#gA" x="1044.8" y="354.3" stroke="#1a1a1a"/>
<use href="#gA" x="1044.8" y="371.5" stroke="#1a1a1a"/>
<use href="#gA" x="1062.0" y="354.3" stroke="#1a1a1a"/>
<use href="#gA" x="1062.0" y="371.5" stroke="#1a1a1a"/>
<use href="#gG" x="1079.2" y="354.3" stroke="#1a1a1a"/>
<use href="#gG" x="1079.2" y="371.5" stroke="#1a1a1a"/>
<use href="#gA" x="1096.4" y="354.3" stroke="#1a1a1a"/>
<use href="#gA" x="1096.4" y="371.5" stroke="#1a1a1a"/>
<use href="#gC" x="1113.6" y="354.3" stroke="#1a1a1a"/>
<use href="#gC" x="1113.6" y="371.5" stroke="#1a1a1a"/>
<use href="#gA" x="1130.8" y="354.3" stroke="#1a1a1a"/>
<use href="#gA" x="1130.8" y="371.5" stroke="#1a1a1a"/>
<use href="#gA" x="1148.0" y="354.3" stroke="#1a1a1a"/>
<use href="#gA" x="1148.0" y="371.5" stroke="#1a1a1a"/>
<use href="#gG" x="1165.2" y="354.3" stroke="#1a1a1a"/>
<use href="#gG" x="1165.2" y="371.5" stroke="#1a1a1a"/>
<use href="#gA" x="1182.4" y="354.3" stroke="#1a1a1a"/>
<use href="#gA" x="1182.4" y="371.5" stroke="#1a1a1a"/>
<use href="#gT" x="1199.6" y="354.3" stroke="#1a1a1a"/>
<use href="#gT" x="1199.6" y="371.5" stroke="#1a1a1a"/>
<use href="#gA" x="1216.8" y="354.3" stroke="#1a1a1a"/>
<use href="#gA" x="1216.8" y="371.5" stroke="#1a1a1a"/>
<use href="#gT" x="1234.0" y="354.3" stroke="#1a1a1a"/>
<use href="#gT" x="1234.0" y="371.5" stroke="#1a1a1a"/>
<use href="#gC" x="1251.2" y="354.3" stroke="#1a1a1a"/>
<use href="#gC" x="1251.2" y="371.5" stroke="#1a1a1a"/>
<line x1="0" y1="359.5" x2="1269" y2="359.5" stroke="#c4c4c4" stroke-width="1.8"/>
<clipPath id="clip241"><rect x="10" y="374.2" width="1256.5" height="115.80000000000001"/></clipPath>
<line x1="10" y1="475.2" x2="1266" y2="475.2" stroke="#222" stroke-width="1"/>
<g clip-path="url(#clip241)" fill="none" stroke-width="1.1" stroke-linejoin="round">
<path d="M8,475.1L20.5,475.1L21,474.8L21.5,473.2L22,471.6L22.5,470.0L23,468.4L23.5,466.8L24,465.2L24.5,463.6L25,462.1L25.5,460.5L26,459.0L26.5,457.5L27,456.0L27.5,454.6L28,453.3L28.5,452.2L29,451.4L29.5,451.2L30,451.7L30.5,452.6L31,453.8L31.5,455.1L32,456.6L32.5,458.1L33,459.6L33.5,461.1L34,462.7L34.5,464.3L35,465.9L35.5,467.4L36,469.0L36.5,470.6L37,472.2L37.5,473.8L38,475.1L123.5,475.1L124,474.4L124.5,472.7L125,470.9L125.5,469.2L126,467.4L126.5,465.7L127,464.0L127.5,462.2L128,460.5L128.5,458.8L129,457.2L129.5,455.5L130,453.9L130.5,452.4L131,451.0L131.5,449.9L132,449.1L132.5,449.1L133,449.7L133.5,450.8L134,452.1L134.5,453.6L135,455.2L135.5,456.8L136,458.5L136.5,460.2L137,461.9L137.5,463.6L138,465.3L138.5,467.1L139,468.8L139.5,470.6L140,472.3L140.5,474.1L141,475.1L209.5,475.1L210,474.6L210.5,472.0L211,469.5L211.5,466.9L212,464.4L212.5,461.8L213,459.3L213.5,456.8L214,454.3L214.5,451.8L215,449.3L215.5,446.9L216,444.6L216.5,442.3L217,440.2L217.5,438.5L218,437.2L218.5,436.9L219,437.6L219.5,439.1L220,441.0L220.5,443.2L221,445.5L221.5,447.9L222,450.3L222.5,452.8L223,455.3L223.5,457.8L224,460.3L224.5,462.9L225,465.4L225.5,467.9L226,470.5L226.5,473.1L227,475.1L227.5,474.6L228,471.9L228.5,469.2L229,466.5L229.5,463.8L230,461.2L230.5,458.5L231,455.9L231.5,453.3L232,450.6L232.5,448.1L233,445.5L233.5,443.1L234,440.7L234.5,438.5L235,436.6L235.5,435.4L236,435.0L236.5,435.8L237,437.3L237.5,439.3L238,441.6L238.5,444.0L239,446.5L239.5,449.1L240,451.7L240.5,454.3L241,456.9L241.5,459.6L242,462.2L242.5,464.9L243,467.6L243.5,470.3L244,473.0L244.5,475.1L245,474.0L245.5,471.3L246,468.7L246.5,466.0L247,463.3L247.5,460.6L248,458.0L248.5,455.4L249,452.7L249.5,450.1L250,447.6L250.5,445.0L251,442.6L251.5,440.2L252,438.1L252.5,436.3L253,435.2L253.5,435.1L254,436.0L254.5,437.7L255,439.8L255.5,442.1L256,444.5L256.5,447.0L257,449.6L257.5,452.2L258,454.8L258.5,457.5L259,460.1L259.5,462.8L260,465.4L260.5,468.1L261,470.8L261.5,473.5L262,475.1L278,475.1L278.5,473.8L279,471.6L279.5,469.3L280,467.1L280.5,464.9L281,462.7L281.5,460.5L282,458.4L282.5,456.2L283,454.1L283.5,451.9L284,449.9L284.5,447.9L285,445.9L285.5,444.2L286,442.8L286.5,442.1L287,442.2L287.5,443.1L288,444.6L288.5,446.3L289,448.2L289.5,450.3L290,452.4L290.5,454.5L291,456.6L291.5,458.8L292,461.0L292.5,463.2L293,465.4L293.5,467.6L294,469.8L294.5,472.0L295,474.2L295.5,475.1L296,474.0L296.5,472.2L297,470.4L297.5,468.6L298,466.8L298.5,465.0L299,463.2L299.5,461.4L300,459.7L300.5,457.9L301,456.2L301.5,454.5L302,452.9L302.5,451.3L303,449.9L303.5,448.8L304,448.2L304.5,448.2L305,449.0L305.5,450.2L306,451.6L306.5,453.2L307,454.9L307.5,456.6L308,458.3L308.5,460.0L309,461.8L309.5,463.6L310,465.4L310.5,467.2L311,469.0L311.5,470.8L312,472.6L312.5,474.4L313,475.1L330.5,475.1L331,473.4L331.5,470.6L332,467.8L332.5,465.0L333,462.2L333.5,459.4L334,456.7L334.5,453.9L335,451.2L335.5,448.5L336,445.8L336.5,443.2L337,440.6L337.5,438.2L338,436.0L338.5,434.3L339,433.3L339.5,433.4L340,434.6L340.5,436.5L341,438.8L341.5,441.3L342,444.0L342.5,446.7L343,449.4L343.5,452.2L344,455.1L344.5,457.9L345,460.7L345.5,463.6L346,466.5L346.5,469.3L347,472.2L347.5,475.1L348,472.5L348.5,469.8L349,467.2L349.5,464.6L350,462.0L350.5,459.4L351,456.8L351.5,454.3L352,451.7L352.5,449.2L353,446.7L353.5,444.3L354,442.0L354.5,439.9L355,438.2L355.5,437.1L356,437.0L356.5,437.9L357,439.5L357.5,441.5L358,443.7L358.5,446.0L359,448.4L359.5,450.8L360,453.3L360.5,455.8L361,458.3L361.5,460.8L362,463.4L362.5,465.9L363,468.5L363.5,471.0L364,473.6L364.5,475.1L399.5,475.1L400,473.7L400.5,471.3L401,469.0L401.5,466.6L402,464.3L402.5,461.9L403,459.6L403.5,457.3L404,454.9L404.5,452.7L405,450.4L405.5,448.2L406,446.0L406.5,444.0L407,442.2L407.5,440.7L408,439.9L408.5,440.0L409,441.0L409.5,442.5L410,444.4L410.5,446.5L411,448.6L411.5,450.8L412,453.1L412.5,455.4L413,457.7L413.5,460.0L414,462.4L414.5,464.7L415,467.1L415.5,469.4L416,471.8L416.5,474.2L417,475.1L451,475.1L451.5,473.2L452,470.8L452.5,468.5L453,466.1L453.5,463.8L454,461.4L454.5,459.1L455,456.8L455.5,454.5L456,452.2L456.5,450.0L457,447.8L457.5,445.6L458,443.6L458.5,441.8L459,440.5L459.5,439.8L460,440.1L460.5,441.2L461,442.9L461.5,444.8L462,446.9L462.5,449.1L463,451.3L463.5,453.6L464,455.9L464.5,458.2L465,460.5L465.5,462.8L466,465.2L466.5,467.5L467,469.9L467.5,472.3L468,474.6L468.5,475.1L485,475.1L485.5,474.1L486,472.5L486.5,470.9L487,469.3L487.5,467.6L488,466.0L488.5,464.4L489,462.8L489.5,461.2L490,459.7L490.5,458.1L491,456.6L491.5,455.1L492,453.7L492.5,452.4L493,451.4L493.5,450.9L494,450.9L494.5,451.6L495,452.7L495.5,454.0L496,455.4L496.5,456.9L497,458.4L497.5,460.0L498,461.5L498.5,463.1L499,464.7L499.5,466.3L500,468.0L500.5,469.6L501,471.2L501.5,472.8L502,474.4L502.5,475.1L536,475.1L536.5,474.1L537,472.5L537.5,470.9L538,469.3L538.5,467.6L539,466.0L539.5,464.4L540,462.8L540.5,461.2L541,459.7L541.5,458.1L542,456.6L542.5,455.1L543,453.7L543.5,452.4L544,451.4L544.5,450.9L545,450.9L545.5,451.6L546,452.7L546.5,454.0L547,455.4L547.5,456.9L548,458.4L548.5,460.0L549,461.5L549.5,463.1L550,464.7L550.5,466.3L551,468.0L551.5,469.6L552,471.2L552.5,472.8L553,474.4L553.5,475.1L571,475.1L571.5,474.2L572,472.6L572.5,471.0L573,469.5L573.5,467.9L574,466.4L574.5,464.9L575,463.3L575.5,461.8L576,460.3L576.5,458.8L577,457.3L577.5,455.9L578,454.6L578.5,453.4L579,452.4L579.5,451.9L580,451.9L580.5,452.6L581,453.6L581.5,454.8L582,456.2L582.5,457.6L583,459.1L583.5,460.6L584,462.1L584.5,463.6L585,465.2L585.5,466.7L586,468.2L586.5,469.8L587,471.4L587.5,472.9L588,474.5L588.5,475.1L657,475.1L657.5,473.3L658,470.4L658.5,467.4L659,464.5L659.5,461.5L660,458.6L660.5,455.7L661,452.8L661.5,449.9L662,447.1L662.5,444.2L663,441.5L663.5,438.8L664,436.3L664.5,434.0L665,432.1L665.5,431.1L666,431.2L666.5,432.5L667,434.5L667.5,437.0L668,439.6L668.5,442.4L669,445.3L669.5,448.2L670,451.2L670.5,454.2L671,457.2L671.5,460.2L672,463.2L672.5,466.3L673,469.3L673.5,472.3L674,474.8L674.5,471.7L675,468.6L675.5,465.5L676,462.4L676.5,459.3L677,456.2L677.5,453.1L678,450.1L678.5,447.1L679,444.1L679.5,441.2L680,438.3L680.5,435.7L681,433.2L681.5,431.3L682,430.2L682.5,430.3L683,431.6L683.5,433.6L684,436.0L684.5,438.6L685,441.4L685.5,444.2L686,447.1L686.5,450.0L687,452.9L687.5,455.9L688,458.9L688.5,461.9L689,464.9L689.5,467.9L690,470.9L690.5,473.9L691,475.1L777.5,475.1L778,472.6L778.5,470.1L779,467.7L779.5,465.2L780,462.7L780.5,460.3L781,457.8L781.5,455.4L782,453.0L782.5,450.6L783,448.2L783.5,445.9L784,443.7L784.5,441.6L785,439.8L785.5,438.5L786,438.0L786.5,438.5L787,439.8L787.5,441.6L788,443.7L788.5,445.9L789,448.2L789.5,450.6L790,453.0L790.5,455.4L791,457.8L791.5,460.3L792,462.7L792.5,465.2L793,467.7L793.5,470.1L794,472.6L794.5,475.1L795,475.1L795.5,472.2L796,469.4L796.5,466.5L797,463.7L797.5,460.8L798,458.0L798.5,455.1L799,452.3L799.5,449.5L800,446.8L800.5,444.1L801,441.4L801.5,438.9L802,436.5L802.5,434.4L803,432.9L803.5,432.3L804,432.9L804.5,434.4L805,436.5L805.5,438.9L806,441.4L806.5,444.1L807,446.8L807.5,449.5L808,452.3L808.5,455.1L809,458.0L809.5,460.8L810,463.7L810.5,466.5L811,469.4L811.5,472.2L812,475.1L863.5,475.1L864,474.1L864.5,472.3L865,470.6L865.5,468.9L866,467.2L866.5,465.5L867,463.8L867.5,462.1L868,460.4L868.5,458.8L869,457.1L869.5,455.5L870,453.9L870.5,452.5L871,451.1L871.5,450.1L872,449.5L872.5,449.5L873,450.2L873.5,451.4L874,452.8L874.5,454.3L875,455.8L875.5,457.4L876,459.1L876.5,460.8L877,462.4L877.5,464.1L878,465.8L878.5,467.5L879,469.3L879.5,471.0L880,472.7L880.5,474.4L881,475.1L966.5,475.1L967,473.8L967.5,471.6L968,469.3L968.5,467.1L969,464.9L969.5,462.7L970,460.5L970.5,458.4L971,456.2L971.5,454.1L972,451.9L972.5,449.9L973,447.9L973.5,445.9L974,444.2L974.5,442.8L975,442.1L975.5,442.2L976,443.1L976.5,444.6L977,446.3L977.5,448.2L978,450.3L978.5,452.4L979,454.5L979.5,456.6L980,458.8L980.5,461.0L981,463.2L981.5,465.4L982,467.6L982.5,469.8L983,472.0L983.5,474.2L984,475.1L984.5,474.1L985,472.5L985.5,470.9L986,469.2L986.5,467.6L987,466.0L987.5,464.4L988,462.8L988.5,461.2L989,459.6L989.5,458.0L990,456.5L990.5,455.0L991,453.6L991.5,452.3L992,451.3L992.5,450.8L993,450.8L993.5,451.5L994,452.6L994.5,453.9L995,455.3L995.5,456.8L996,458.3L996.5,459.9L997,461.5L997.5,463.1L998,464.7L998.5,466.3L999,467.9L999.5,469.6L1000,471.2L1000.5,472.8L1001,474.4L1001.5,475.1L1035,475.1L1035.5,474.6L1036,472.1L1036.5,469.7L1037,467.2L1037.5,464.8L1038,462.4L1038.5,459.9L1039,457.5L1039.5,455.1L1040,452.7L1040.5,450.4L1041,448.0L1041.5,445.8L1042,443.6L1042.5,441.6L1043,439.9L1043.5,438.7L1044,438.4L1044.5,439.1L1045,440.6L1045.5,442.4L1046,444.5L1046.5,446.8L1047,449.1L1047.5,451.5L1048,453.9L1048.5,456.3L1049,458.7L1049.5,461.2L1050,463.7L1050.5,466.1L1051,468.6L1051.5,471.1L1052,473.6L1052.5,474.1L1053,471.5L1053.5,468.9L1054,466.3L1054.5,463.7L1055,461.2L1055.5,458.6L1056,456.0L1056.5,453.5L1057,451.0L1057.5,448.5L1058,446.1L1058.5,443.7L1059,441.5L1059.5,439.5L1060,437.9L1060.5,437.0L1061,437.1L1061.5,438.2L1062,439.8L1062.5,441.9L1063,444.1L1063.5,446.5L1064,448.9L1064.5,451.3L1065,453.8L1065.5,456.3L1066,458.8L1066.5,461.3L1067,463.9L1067.5,466.4L1068,469.0L1068.5,471.5L1069,474.1L1069.5,475.1L1087,475.1L1087.5,474.0L1088,472.0L1088.5,470.1L1089,468.2L1089.5,466.3L1090,464.5L1090.5,462.6L1091,460.7L1091.5,458.8L1092,457.0L1092.5,455.2L1093,453.4L1093.5,451.6L1094,450.0L1094.5,448.5L1095,447.3L1095.5,446.7L1096,446.7L1096.5,447.5L1097,448.8L1097.5,450.3L1098,452.0L1098.5,453.7L1099,455.5L1099.5,457.3L1100,459.2L1100.5,461.1L1101,462.9L1101.5,464.8L1102,466.7L1102.5,468.6L1103,470.5L1103.5,472.4L1104,474.3L1104.5,475.1L1121.5,475.1L1122,474.6L1122.5,471.9L1123,469.2L1123.5,466.5L1124,463.8L1124.5,461.2L1125,458.5L1125.5,455.9L1126,453.3L1126.5,450.6L1127,448.1L1127.5,445.5L1128,443.1L1128.5,440.7L1129,438.5L1129.5,436.6L1130,435.4L1130.5,435.0L1131,435.8L1131.5,437.4L1132,439.4L1132.5,441.7L1133,444.2L1133.5,446.7L1134,449.3L1134.5,451.9L1135,454.6L1135.5,457.2L1136,459.9L1136.5,462.6L1137,465.3L1137.5,468.0L1138,470.7L1138.5,473.5L1139,474.0L1139.5,471.2L1140,468.4L1140.5,465.7L1141,462.9L1141.5,460.1L1142,457.4L1142.5,454.6L1143,451.9L1143.5,449.2L1144,446.6L1144.5,444.0L1145,441.4L1145.5,439.1L1146,436.9L1146.5,435.2L1147,434.2L1147.5,434.3L1148,435.4L1148.5,437.3L1149,439.4L1149.5,441.8L1150,444.4L1150.5,446.9L1151,449.6L1151.5,452.2L1152,454.9L1152.5,457.6L1153,460.3L1153.5,463.0L1154,465.8L1154.5,468.5L1155,471.3L1155.5,474.0L1156,475.1L1172.5,475.1L1173,474.5L1173.5,471.4L1174,468.3L1174.5,465.1L1175,462.0L1175.5,459.0L1176,455.9L1176.5,452.8L1177,449.8L1177.5,446.7L1178,443.7L1178.5,440.8L1179,437.9L1179.5,435.2L1180,432.7L1180.5,430.5L1181,429.0L1181.5,428.6L1182,429.5L1182.5,431.3L1183,433.6L1183.5,436.3L1184,439.1L1184.5,442.0L1185,444.9L1185.5,447.9L1186,451.0L1186.5,454.0L1187,457.1L1187.5,460.2L1188,463.3L1188.5,466.4L1189,469.5L1189.5,472.6L1190,475.1L1207.5,475.1L1208,474.0L1208.5,471.3L1209,468.7L1209.5,466.0L1210,463.3L1210.5,460.6L1211,458.0L1211.5,455.4L1212,452.7L1212.5,450.1L1213,447.6L1213.5,445.0L1214,442.6L1214.5,440.2L1215,438.1L1215.5,436.3L1216,435.2L1216.5,435.1L1217,436.0L1217.5,437.7L1218,439.8L1218.5,442.1L1219,444.5L1219.5,447.0L1220,449.6L1220.5,452.2L1221,454.8L1221.5,457.5L1222,460.1L1222.5,462.8L1223,465.4L1223.5,468.1L1224,470.8L1224.5,473.5L1225,475.1L1270,475.1" stroke="#1f8a3c"/>
<path d="M8,475.1L37,475.1L37.5,474.4L38,471.1L38.5,467.7L39,464.4L39.5,461.1L40,457.7L40.5,454.4L41,451.1L41.5,447.9L42,444.6L42.5,441.4L43,438.2L43.5,435.1L44,432.2L44.5,429.5L45,427.1L45.5,425.5L46,425.1L46.5,426.1L47,428.0L47.5,430.5L48,433.4L48.5,436.4L49,439.5L49.5,442.7L50,445.9L50.5,449.2L51,452.5L51.5,455.8L52,459.1L52.5,462.4L53,465.7L53.5,469.1L54,472.4L54.5,475.1L55,474.7L55.5,472.4L56,470.2L56.5,468.0L57,465.8L57.5,463.6L58,461.4L58.5,459.2L59,457.1L59.5,454.9L60,452.8L60.5,450.7L61,448.6L61.5,446.7L62,444.9L62.5,443.3L63,442.3L63.5,442.0L64,442.6L64.5,443.9L65,445.6L65.5,447.5L66,449.5L66.5,451.5L67,453.6L67.5,455.8L68,457.9L68.5,460.1L69,462.3L69.5,464.5L70,466.7L70.5,468.9L71,471.1L71.5,473.3L72,475.1L141,475.1L141.5,473.9L142,471.9L142.5,470.0L143,468.0L143.5,466.1L144,464.1L144.5,462.2L145,460.2L145.5,458.3L146,456.4L146.5,454.5L147,452.7L147.5,450.9L148,449.2L148.5,447.7L149,446.5L149.5,445.8L150,445.8L150.5,446.7L151,448.0L151.5,449.5L152,451.3L152.5,453.1L153,454.9L153.5,456.8L154,458.7L154.5,460.6L155,462.6L155.5,464.5L156,466.5L156.5,468.4L157,470.4L157.5,472.3L158,474.3L158.5,475.1L175.5,475.1L176,474.8L176.5,473.0L177,471.3L177.5,469.5L178,467.8L178.5,466.0L179,464.3L179.5,462.6L180,460.9L180.5,459.2L181,457.5L181.5,455.9L182,454.2L182.5,452.7L183,451.3L183.5,450.1L184,449.2L184.5,449.0L185,449.5L185.5,450.5L186,451.8L186.5,453.3L187,454.9L187.5,456.6L188,458.2L188.5,459.9L189,461.6L189.5,463.4L190,465.1L190.5,466.9L191,468.6L191.5,470.4L192,472.1L192.5,473.9L193,474.3L193.5,471.5L194,468.7L194.5,466.0L195,463.2L195.5,460.5L196,457.8L196.5,455.0L197,452.3L197.5,449.7L198,447.0L198.5,444.4L199,441.9L199.5,439.5L200,437.3L200.5,435.5L201,434.3L201.5,434.2L202,435.2L202.5,436.9L203,439.0L203.5,441.4L204,443.8L204.5,446.4L205,449.0L205.5,451.7L206,454.4L206.5,457.1L207,459.8L207.5,462.5L208,465.2L208.5,468.0L209,470.7L209.5,473.5L210,475.1L313,475.1L313.5,472.1L314,468.5L314.5,464.8L315,461.1L315.5,457.4L316,453.8L316.5,450.1L317,446.5L317.5,442.9L318,439.4L318.5,435.8L319,432.4L319.5,429.1L320,426.0L320.5,423.2L321,421.1L321.5,420.0L322,420.5L322.5,422.2L323,424.8L323.5,427.8L324,431.1L324.5,434.5L325,437.9L325.5,441.5L326,445.1L326.5,448.7L327,452.3L327.5,456.0L328,459.6L328.5,463.3L329,467.0L329.5,470.7L330,474.4L330.5,475.1L502.5,475.1L503,474.3L503.5,473.0L504,471.7L504.5,470.3L505,469.0L505.5,467.7L506,466.4L506.5,465.1L507,463.8L507.5,462.5L508,461.2L508.5,460.0L509,458.8L509.5,457.7L510,456.6L510.5,455.8L511,455.3L511.5,455.4L512,455.9L512.5,456.8L513,457.9L513.5,459.0L514,460.3L514.5,461.5L515,462.8L515.5,464.1L516,465.3L516.5,466.7L517,468.0L517.5,469.3L518,470.6L518.5,471.9L519,473.2L519.5,474.6L520,475.1L553,475.1L553.5,472.9L554,469.2L554.5,465.5L555,461.8L555.5,458.2L556,454.5L556.5,450.9L557,447.2L557.5,443.6L558,440.1L558.5,436.5L559,433.1L559.5,429.7L560,426.6L560.5,423.7L561,421.4L561.5,420.1L562,420.3L562.5,421.8L563,424.2L563.5,427.2L564,430.4L564.5,433.8L565,437.2L565.5,440.8L566,444.4L566.5,448.0L567,451.6L567.5,455.2L568,458.9L568.5,462.6L569,466.2L569.5,469.9L570,473.6L570.5,475.1L588,475.1L588.5,473.8L589,472.2L589.5,470.6L590,469.0L590.5,467.4L591,465.9L591.5,464.3L592,462.7L592.5,461.1L593,459.6L593.5,458.1L594,456.6L594.5,455.1L595,453.8L595.5,452.6L596,451.7L596.5,451.2L597,451.4L597.5,452.2L598,453.3L598.5,454.6L599,456.0L599.5,457.5L600,459.0L600.5,460.5L601,462.1L601.5,463.6L602,465.2L602.5,466.8L603,468.4L603.5,470.0L604,471.6L604.5,473.2L605,474.8L605.5,475.1L742.5,475.1L743,474.1L743.5,472.8L744,471.5L744.5,470.2L745,468.9L745.5,467.6L746,466.4L746.5,465.1L747,463.8L747.5,462.6L748,461.4L748.5,460.1L749,459.0L749.5,457.9L750,456.9L750.5,456.2L751,455.8L751.5,456.0L752,456.6L752.5,457.5L753,458.5L753.5,459.7L754,460.9L754.5,462.1L755,463.3L755.5,464.6L756,465.8L756.5,467.1L757,468.4L757.5,469.7L758,471.0L758.5,472.3L759,473.5L759.5,474.8L760,475.1L845.5,475.1L846,473.2L846.5,470.1L847,467.0L847.5,463.8L848,460.7L848.5,457.6L849,454.5L849.5,451.4L850,448.4L850.5,445.3L851,442.4L851.5,439.4L852,436.6L852.5,433.9L853,431.5L853.5,429.5L854,428.4L854.5,428.5L855,429.8L855.5,431.9L856,434.4L856.5,437.1L857,440.0L857.5,442.9L858,446.0L858.5,449.0L859,452.1L859.5,455.1L860,458.2L860.5,461.3L861,464.5L861.5,467.6L862,470.7L862.5,473.8L863,475.1L881,475.1L881.5,472.7L882,470.4L882.5,468.0L883,465.7L883.5,463.3L884,461.0L884.5,458.6L885,456.3L885.5,454.0L886,451.8L886.5,449.5L887,447.3L887.5,445.2L888,443.2L888.5,441.5L889,440.3L889.5,439.8L890,440.3L890.5,441.5L891,443.2L891.5,445.2L892,447.3L892.5,449.5L893,451.8L893.5,454.0L894,456.3L894.5,458.6L895,461.0L895.5,463.3L896,465.7L896.5,468.0L897,470.4L897.5,472.7L898,475.1L915.5,475.1L916,473.4L916.5,471.7L917,469.9L917.5,468.2L918,466.5L918.5,464.8L919,463.1L919.5,461.4L920,459.8L920.5,458.1L921,456.5L921.5,454.9L922,453.3L922.5,451.9L923,450.7L923.5,449.7L924,449.4L924.5,449.8L925,450.7L925.5,451.9L926,453.4L926.5,454.9L927,456.5L927.5,458.2L928,459.8L928.5,461.5L929,463.2L929.5,464.9L930,466.6L930.5,468.4L931,470.1L931.5,471.8L932,473.5L932.5,474.8L933,472.3L933.5,469.7L934,467.1L934.5,464.6L935,462.0L935.5,459.5L936,456.9L936.5,454.4L937,451.9L937.5,449.4L938,447.0L938.5,444.6L939,442.4L939.5,440.3L940,438.5L940.5,437.2L941,436.9L941.5,437.7L942,439.2L942.5,441.2L943,443.4L943.5,445.8L944,448.3L944.5,450.8L945,453.3L945.5,455.9L946,458.5L946.5,461.1L947,463.8L947.5,466.4L948,469.0L948.5,471.7L949,474.3L949.5,473.1L950,470.2L950.5,467.3L951,464.4L951.5,461.5L952,458.6L952.5,455.8L953,452.9L953.5,450.1L954,447.3L954.5,444.6L955,441.9L955.5,439.3L956,437.0L956.5,435.0L957,433.6L957.5,433.2L958,434.0L958.5,435.6L959,437.7L959.5,440.1L960,442.6L960.5,445.3L961,447.9L961.5,450.6L962,453.4L962.5,456.1L963,458.9L963.5,461.7L964,464.5L964.5,467.2L965,470.0L965.5,472.9L966,475.1L1001,475.1L1001.5,474.2L1002,473.1L1002.5,471.9L1003,470.8L1003.5,469.7L1004,468.6L1004.5,467.4L1005,466.3L1005.5,465.2L1006,464.1L1006.5,463.1L1007,462.0L1007.5,461.0L1008,460.0L1008.5,459.2L1009,458.5L1009.5,458.2L1010,458.3L1010.5,458.9L1011,459.7L1011.5,460.6L1012,461.6L1012.5,462.6L1013,463.7L1013.5,464.8L1014,465.9L1014.5,467.0L1015,468.1L1015.5,469.2L1016,470.4L1016.5,471.5L1017,472.6L1017.5,473.7L1018,474.9L1018.5,475.1L1104.5,475.1L1105,471.4L1105.5,467.7L1106,464.0L1106.5,460.4L1107,456.7L1107.5,453.1L1108,449.4L1108.5,445.8L1109,442.2L1109.5,438.7L1110,435.2L1110.5,431.7L1111,428.4L1111.5,425.4L1112,422.7L1112.5,420.7L1113,420.0L1113.5,420.7L1114,422.7L1114.5,425.4L1115,428.4L1115.5,431.7L1116,435.2L1116.5,438.7L1117,442.2L1117.5,445.8L1118,449.4L1118.5,453.1L1119,456.7L1119.5,460.4L1120,464.0L1120.5,467.7L1121,471.4L1121.5,475.1L1241.5,475.1L1242,472.5L1242.5,469.2L1243,466.0L1243.5,462.7L1244,459.5L1244.5,456.3L1245,453.0L1245.5,449.8L1246,446.7L1246.5,443.5L1247,440.4L1247.5,437.4L1248,434.4L1248.5,431.7L1249,429.2L1249.5,427.3L1250,426.4L1250.5,426.8L1251,428.4L1251.5,430.6L1252,433.3L1252.5,436.2L1253,439.2L1253.5,442.3L1254,445.4L1254.5,448.6L1255,451.8L1255.5,455.0L1256,458.2L1256.5,461.4L1257,464.7L1257.5,467.9L1258,471.2L1258.5,474.4L1259,475.1L1259.5,475.1L1260,472.8L1260.5,470.5L1261,468.3L1261.5,466.0L1262,463.7L1262.5,461.5L1263,459.3L1263.5,457.0L1264,454.8L1264.5,452.6L1265,450.5L1265.5,448.3L1266,446.3L1266.5,444.4L1267,442.8L1267.5,441.6L1268,441.1L1268.5,441.6L1269,442.8L1269.5,444.4L1270,446.3" stroke="#1f3fa8"/>
<path d="M8,452.6L8.5,450.7L9,448.9L9.5,447.1L10,445.6L10.5,444.5L11,444.1L11.5,444.5L12,445.6L12.5,447.1L13,448.9L13.5,450.7L14,452.6L14.5,454.6L15,456.6L15.5,458.6L16,460.6L16.5,462.7L17,464.7L17.5,466.8L18,468.9L18.5,470.9L19,473.0L19.5,475.1L260.5,475.1L261,474.0L261.5,471.3L262,468.5L262.5,465.8L263,463.0L263.5,460.3L264,457.6L264.5,454.9L265,452.2L265.5,449.6L266,446.9L266.5,444.4L267,441.8L267.5,439.4L268,437.3L268.5,435.4L269,434.3L269.5,434.2L270,435.2L270.5,436.9L271,439.0L271.5,441.4L272,443.8L272.5,446.4L273,449.0L273.5,451.7L274,454.4L274.5,457.1L275,459.8L275.5,462.5L276,465.2L276.5,468.0L277,470.7L277.5,473.5L278,475.1L467,475.1L467.5,474.2L468,471.8L468.5,469.4L469,467.1L469.5,464.7L470,462.4L470.5,460.0L471,457.7L471.5,455.4L472,453.1L472.5,450.8L473,448.6L473.5,446.5L474,444.4L474.5,442.5L475,441.0L475.5,440.0L476,439.9L476.5,440.7L477,442.2L477.5,444.0L478,446.0L478.5,448.2L479,450.4L479.5,452.7L480,454.9L480.5,457.3L481,459.6L481.5,461.9L482,464.3L482.5,466.6L483,469.0L483.5,471.3L484,473.7L484.5,475.1L518.5,475.1L519,474.7L519.5,472.4L520,470.2L520.5,468.0L521,465.8L521.5,463.6L522,461.4L522.5,459.2L523,457.1L523.5,454.9L524,452.8L524.5,450.7L525,448.6L525.5,446.7L526,444.9L526.5,443.3L527,442.3L527.5,442.0L528,442.6L528.5,443.9L529,445.6L529.5,447.5L530,449.5L530.5,451.5L531,453.6L531.5,455.8L532,457.9L532.5,460.1L533,462.3L533.5,464.5L534,466.7L534.5,468.9L535,471.1L535.5,473.3L536,475.1L622,475.1L622.5,473.4L623,471.3L623.5,469.3L624,467.2L624.5,465.1L625,463.0L625.5,461.0L626,458.9L626.5,456.9L627,454.9L627.5,452.9L628,450.9L628.5,449.0L629,447.3L629.5,445.7L630,444.5L630.5,443.9L631,444.2L631.5,445.2L632,446.6L632.5,448.3L633,450.2L633.5,452.1L634,454.1L634.5,456.1L635,458.1L635.5,460.1L636,462.2L636.5,464.3L637,466.3L637.5,468.4L638,470.5L638.5,472.6L639,474.7L639.5,475.1L640,475.1L640.5,474.6L641,472.3L641.5,470.0L642,467.7L642.5,465.4L643,463.2L643.5,460.9L644,458.6L644.5,456.4L645,454.1L645.5,451.9L646,449.7L646.5,447.6L647,445.6L647.5,443.7L648,442.1L648.5,441.0L649,440.7L649.5,441.4L650,442.7L650.5,444.4L651,446.4L651.5,448.4L652,450.6L652.5,452.8L653,455.0L653.5,457.3L654,459.5L654.5,461.8L655,464.1L655.5,466.4L656,468.7L656.5,471.0L657,473.3L657.5,475.1L691.5,475.1L692,473.4L692.5,470.7L693,467.9L693.5,465.2L694,462.4L694.5,459.7L695,456.9L695.5,454.2L696,451.5L696.5,448.8L697,446.2L697.5,443.6L698,441.1L698.5,438.7L699,436.6L699.5,434.9L700,433.9L700.5,434.0L701,435.2L701.5,437.0L702,439.2L702.5,441.7L703,444.2L703.5,446.8L704,449.5L704.5,452.2L705,454.9L705.5,457.6L706,460.4L706.5,463.2L707,465.9L707.5,468.7L708,471.5L708.5,474.3L709,473.2L709.5,470.4L710,467.6L710.5,464.9L711,462.1L711.5,459.4L712,456.7L712.5,454.0L713,451.3L713.5,448.6L714,446.0L714.5,443.4L715,440.9L715.5,438.6L716,436.5L716.5,434.9L717,434.1L717.5,434.5L718,435.8L718.5,437.8L719,440.1L719.5,442.6L720,445.2L720.5,447.8L721,450.5L721.5,453.3L722,456.0L722.5,458.8L723,461.6L723.5,464.4L724,467.2L724.5,470.0L725,472.8L725.5,474.7L726,472.9L726.5,471.2L727,469.4L727.5,467.6L728,465.8L728.5,464.0L729,462.3L729.5,460.5L730,458.8L730.5,457.1L731,455.4L731.5,453.7L732,452.2L732.5,450.8L733,449.7L733.5,449.1L734,449.1L734.5,449.9L735,451.0L735.5,452.4L736,453.9L736.5,455.5L737,457.2L737.5,458.8L738,460.5L738.5,462.2L739,464.0L739.5,465.7L740,467.4L740.5,469.2L741,470.9L741.5,472.7L742,474.4L742.5,475.1L1018,475.1L1018.5,472.5L1019,470.0L1019.5,467.4L1020,464.9L1020.5,462.3L1021,459.8L1021.5,457.3L1022,454.8L1022.5,452.3L1023,449.8L1023.5,447.4L1024,445.0L1024.5,442.8L1025,440.6L1025.5,438.8L1026,437.4L1026.5,436.9L1027,437.4L1027.5,438.8L1028,440.6L1028.5,442.8L1029,445.0L1029.5,447.4L1030,449.8L1030.5,452.3L1031,454.8L1031.5,457.3L1032,459.8L1032.5,462.3L1033,464.9L1033.5,467.4L1034,470.0L1034.5,472.5L1035,475.1L1069,475.1L1069.5,473.1L1070,470.6L1070.5,468.0L1071,465.5L1071.5,463.0L1072,460.5L1072.5,458.0L1073,455.5L1073.5,453.1L1074,450.6L1074.5,448.2L1075,445.9L1075.5,443.6L1076,441.5L1076.5,439.6L1077,438.1L1077.5,437.4L1078,437.7L1078.5,438.9L1079,440.7L1079.5,442.7L1080,445.0L1080.5,447.3L1081,449.7L1081.5,452.1L1082,454.6L1082.5,457.0L1083,459.5L1083.5,462.0L1084,464.5L1084.5,467.0L1085,469.5L1085.5,472.1L1086,474.6L1086.5,475.1L1155,475.1L1155.5,474.1L1156,471.5L1156.5,469.0L1157,466.4L1157.5,463.9L1158,461.3L1158.5,458.8L1159,456.3L1159.5,453.8L1160,451.3L1160.5,448.9L1161,446.5L1161.5,444.1L1162,441.9L1162.5,439.8L1163,438.2L1163.5,437.1L1164,437.0L1164.5,437.9L1165,439.5L1165.5,441.5L1166,443.7L1166.5,446.0L1167,448.4L1167.5,450.8L1168,453.3L1168.5,455.8L1169,458.3L1169.5,460.8L1170,463.4L1170.5,465.9L1171,468.5L1171.5,471.0L1172,473.6L1172.5,475.1L1270,475.1" stroke="#111111"/>
<path d="M8,474.4L72.5,474.4L73,472.8L73.5,470.1L74,467.4L74.5,464.7L75,462.1L75.5,459.4L76,456.8L76.5,454.1L77,451.5L77.5,448.9L78,446.3L78.5,443.8L79,441.4L79.5,439.1L80,437.0L80.5,435.3L81,434.4L81.5,434.5L82,435.7L82.5,437.6L83,439.8L83.5,442.3L84,444.9L84.5,447.6L85,450.3L85.5,453.0L86,455.8L86.5,458.6L87,461.4L87.5,464.2L88,467.0L88.5,469.9L89,472.7L89.5,473.2L90,470.3L90.5,467.4L91,464.6L91.5,461.7L92,458.8L92.5,456.0L93,453.1L93.5,450.3L94,447.5L94.5,444.8L95,442.1L95.5,439.5L96,437.2L96.5,435.2L97,433.8L97.5,433.4L98,434.2L98.5,435.8L99,437.8L99.5,440.2L100,442.6L100.5,445.2L101,447.8L101.5,450.5L102,453.1L102.5,455.8L103,458.5L103.5,461.3L104,464.0L104.5,466.7L105,469.5L105.5,472.2L106,474.4L106.5,474.4L107,473.1L107.5,470.9L108,468.6L108.5,466.4L109,464.2L109.5,462.0L110,459.8L110.5,457.7L111,455.5L111.5,453.4L112,451.2L112.5,449.2L113,447.2L113.5,445.2L114,443.5L114.5,442.1L115,441.4L115.5,441.5L116,442.4L116.5,443.9L117,445.6L117.5,447.5L118,449.6L118.5,451.7L119,453.8L119.5,455.9L120,458.1L120.5,460.3L121,462.5L121.5,464.7L122,466.9L122.5,469.1L123,471.3L123.5,473.5L124,474.4L158,474.4L158.5,473.8L159,470.7L159.5,467.6L160,464.5L160.5,461.4L161,458.3L161.5,455.3L162,452.2L162.5,449.2L163,446.2L163.5,443.2L164,440.3L164.5,437.4L165,434.7L165.5,432.1L166,430.0L166.5,428.5L167,428.1L167.5,429.0L168,430.8L168.5,433.1L169,435.7L169.5,438.5L170,441.4L170.5,444.4L171,447.4L171.5,450.4L172,453.4L172.5,456.5L173,459.6L173.5,462.6L174,465.7L174.5,468.8L175,471.9L175.5,474.4L365,474.4L365.5,472.6L366,470.3L366.5,468.0L367,465.7L367.5,463.4L368,461.1L368.5,458.8L369,456.6L369.5,454.3L370,452.1L370.5,449.9L371,447.7L371.5,445.7L372,443.7L372.5,442.0L373,440.7L373.5,440.0L374,440.3L374.5,441.4L375,443.0L375.5,444.9L376,446.9L376.5,449.0L377,451.2L377.5,453.4L378,455.7L378.5,457.9L379,460.2L379.5,462.5L380,464.7L380.5,467.0L381,469.3L381.5,471.6L382,473.9L382.5,473.0L383,470.7L383.5,468.4L384,466.1L384.5,463.8L385,461.5L385.5,459.3L386,457.0L386.5,454.8L387,452.5L387.5,450.3L388,448.2L388.5,446.1L389,444.1L389.5,442.3L390,440.9L390.5,440.1L391,440.2L391.5,441.1L392,442.7L392.5,444.5L393,446.5L393.5,448.6L394,450.8L394.5,453.0L395,455.2L395.5,457.5L396,459.7L396.5,462.0L397,464.3L397.5,466.6L398,468.9L398.5,471.2L399,473.5L399.5,474.4L416,474.4L416.5,473.2L417,471.2L417.5,469.1L418,467.1L418.5,465.1L419,463.1L419.5,461.1L420,459.1L420.5,457.1L421,455.1L421.5,453.2L422,451.3L422.5,449.5L423,447.7L423.5,446.1L424,444.9L424.5,444.2L425,444.3L425.5,445.1L426,446.4L426.5,448.1L427,449.8L427.5,451.7L428,453.6L428.5,455.5L429,457.5L429.5,459.5L430,461.5L430.5,463.5L431,465.5L431.5,467.5L432,469.5L432.5,471.6L433,473.6L433.5,474.4L434,474.4L434.5,472.3L435,470.3L435.5,468.2L436,466.1L436.5,464.1L437,462.0L437.5,460.0L438,458.0L438.5,456.0L439,454.0L439.5,452.0L440,450.1L440.5,448.2L441,446.5L441.5,445.0L442,443.9L442.5,443.5L443,443.9L443.5,445.0L444,446.5L444.5,448.2L445,450.1L445.5,452.0L446,454.0L446.5,456.0L447,458.0L447.5,460.0L448,462.0L448.5,464.1L449,466.1L449.5,468.2L450,470.3L450.5,472.3L451,474.4L605,474.4L605.5,473.4L606,471.8L606.5,470.2L607,468.5L607.5,466.9L608,465.3L608.5,463.7L609,462.1L609.5,460.5L610,458.9L610.5,457.3L611,455.8L611.5,454.3L612,452.9L612.5,451.6L613,450.6L613.5,450.1L614,450.1L614.5,450.8L615,451.9L615.5,453.2L616,454.6L616.5,456.1L617,457.6L617.5,459.2L618,460.8L618.5,462.4L619,464.0L619.5,465.6L620,467.2L620.5,468.9L621,470.5L621.5,472.1L622,473.7L622.5,474.4L760.5,474.4L761,472.4L761.5,469.9L762,467.4L762.5,465.0L763,462.5L763.5,460.0L764,457.6L764.5,455.2L765,452.7L765.5,450.3L766,448.0L766.5,445.7L767,443.4L767.5,441.3L768,439.4L768.5,438.0L769,437.3L769.5,437.6L770,438.8L770.5,440.5L771,442.6L771.5,444.8L772,447.0L772.5,449.4L773,451.8L773.5,454.2L774,456.6L774.5,459.1L775,461.5L775.5,464.0L776,466.5L776.5,468.9L777,471.4L777.5,473.9L778,474.4L812,474.4L812.5,473.2L813,470.3L813.5,467.3L814,464.4L814.5,461.4L815,458.5L815.5,455.6L816,452.7L816.5,449.8L817,446.9L817.5,444.1L818,441.3L818.5,438.6L819,436.1L819.5,433.7L820,431.7L820.5,430.5L821,430.4L821.5,431.4L822,433.3L822.5,435.6L823,438.1L823.5,440.8L824,443.5L824.5,446.4L825,449.2L825.5,452.1L826,455.0L826.5,457.9L827,460.8L827.5,463.8L828,466.7L828.5,469.7L829,472.6L829.5,474.4L830,471.2L830.5,468.0L831,464.7L831.5,461.5L832,458.3L832.5,455.2L833,452.0L833.5,448.8L834,445.7L834.5,442.6L835,439.5L835.5,436.5L836,433.7L836.5,431.0L837,428.7L837.5,427.0L838,426.3L838.5,427.0L839,428.7L839.5,431.0L840,433.7L840.5,436.5L841,439.5L841.5,442.6L842,445.7L842.5,448.8L843,452.0L843.5,455.2L844,458.3L844.5,461.5L845,464.7L845.5,468.0L846,471.2L846.5,474.4L897.5,474.4L898,472.4L898.5,469.0L899,465.7L899.5,462.4L900,459.0L900.5,455.7L901,452.4L901.5,449.1L902,445.9L902.5,442.6L903,439.4L903.5,436.3L904,433.2L904.5,430.4L905,427.8L905.5,425.7L906,424.5L906.5,424.7L907,426.0L907.5,428.3L908,430.9L908.5,433.8L909,436.9L909.5,440.1L910,443.3L910.5,446.5L911,449.8L911.5,453.1L912,456.4L912.5,459.7L913,463.0L913.5,466.4L914,469.7L914.5,473.1L915,474.4L1190,474.4L1190.5,473.4L1191,470.9L1191.5,468.4L1192,466.0L1192.5,463.5L1193,461.0L1193.5,458.6L1194,456.1L1194.5,453.7L1195,451.3L1195.5,448.9L1196,446.6L1196.5,444.3L1197,442.1L1197.5,440.2L1198,438.5L1198.5,437.5L1199,437.4L1199.5,438.3L1200,439.8L1200.5,441.7L1201,443.9L1201.5,446.1L1202,448.4L1202.5,450.8L1203,453.2L1203.5,455.6L1204,458.1L1204.5,460.5L1205,463.0L1205.5,465.5L1206,467.9L1206.5,470.4L1207,472.9L1207.5,474.4L1224,474.4L1224.5,473.1L1225,470.0L1225.5,466.9L1226,463.8L1226.5,460.6L1227,457.5L1227.5,454.4L1228,451.4L1228.5,448.3L1229,445.3L1229.5,442.2L1230,439.3L1230.5,436.4L1231,433.7L1231.5,431.2L1232,429.1L1232.5,427.8L1233,427.7L1233.5,428.8L1234,430.8L1234.5,433.2L1235,435.9L1235.5,438.7L1236,441.7L1236.5,444.6L1237,447.7L1237.5,450.7L1238,453.8L1238.5,456.9L1239,460.0L1239.5,463.1L1240,466.3L1240.5,469.4L1241,472.5L1241.5,474.4L1270,474.4" stroke="#e0207a"/>
</g>
<line x1="167.5" y1="375.2" x2="167.5" y2="475.4" stroke="#1a8ee0" stroke-width="1" stroke-dasharray="1.3,1.2"/>
<line x1="511.5" y1="375.2" x2="511.5" y2="475.4" stroke="#1a8ee0" stroke-width="1" stroke-dasharray="1.3,1.2"/>
<line x1="855.5" y1="375.2" x2="855.5" y2="475.4" stroke="#1a8ee0" stroke-width="1" stroke-dasharray="1.3,1.2"/>
<line x1="1199.5" y1="375.2" x2="1199.5" y2="475.4" stroke="#1a8ee0" stroke-width="1" stroke-dasharray="1.3,1.2"/>
<use href="#gG" x="12.8" y="485.8" stroke="#404040"/>
<use href="#gA" x="30.0" y="485.8" stroke="#3c9a2c"/>
<use href="#gC" x="47.2" y="485.8" stroke="#3848b8"/>
<use href="#gC" x="64.4" y="485.8" stroke="#3848b8"/>
<use href="#gT" x="81.6" y="485.8" stroke="#d83070"/>
<use href="#gT" x="98.8" y="485.8" stroke="#d83070"/>
<use href="#gT" x="116.0" y="485.8" stroke="#d83070"/>
<use href="#gA" x="133.2" y="485.8" stroke="#3c9a2c"/>
<use href="#gC" x="150.4" y="485.8" stroke="#3848b8"/>
<use href="#gT" x="167.6" y="485.8" stroke="#d83070"/>
<use href="#gC" x="184.8" y="485.8" stroke="#3848b8"/>
<use href="#gC" x="202.0" y="485.8" stroke="#3848b8"/>
<use href="#gA" x="219.2" y="485.8" stroke="#3c9a2c"/>
<use href="#gA" x="236.4" y="485.8" stroke="#3c9a2c"/>
<use href="#gA" x="253.6" y="485.8" stroke="#3c9a2c"/>
<use href="#gG" x="270.8" y="485.8" stroke="#404040"/>
<use href="#gA" x="288.0" y="485.8" stroke="#3c9a2c"/>
<use href="#gA" x="305.2" y="485.8" stroke="#3c9a2c"/>
<use href="#gC" x="322.4" y="485.8" stroke="#3848b8"/>
<use href="#gA" x="339.6" y="485.8" stroke="#3c9a2c"/>
<use href="#gA" x="356.8" y="485.8" stroke="#3c9a2c"/>
<use href="#gT" x="374.0" y="485.8" stroke="#d83070"/>
<use href="#gT" x="391.2" y="485.8" stroke="#d83070"/>
<use href="#gA" x="408.4" y="485.8" stroke="#3c9a2c"/>
<use href="#gT" x="425.6" y="485.8" stroke="#d83070"/>
<use href="#gT" x="442.8" y="485.8" stroke="#d83070"/>
<use href="#gA" x="460.0" y="485.8" stroke="#3c9a2c"/>
<use href="#gG" x="477.2" y="485.8" stroke="#404040"/>
<use href="#gA" x="494.4" y="485.8" stroke="#3c9a2c"/>
<use href="#gC" x="511.6" y="485.8" stroke="#3848b8"/>
<use href="#gG" x="528.8" y="485.8" stroke="#404040"/>
<use href="#gA" x="546.0" y="485.8" stroke="#3c9a2c"/>
<use href="#gC" x="563.2" y="485.8" stroke="#3848b8"/>
<use href="#gA" x="580.4" y="485.8" stroke="#3c9a2c"/>
<use href="#gC" x="597.6" y="485.8" stroke="#3848b8"/>
<use href="#gT" x="614.8" y="485.8" stroke="#d83070"/>
<use href="#gG" x="632.0" y="485.8" stroke="#404040"/>
<use href="#gG" x="649.2" y="485.8" stroke="#404040"/>
<use href="#gA" x="666.4" y="485.8" stroke="#3c9a2c"/>
<use href="#gA" x="683.6" y="485.8" stroke="#3c9a2c"/>
<use href="#gG" x="700.8" y="485.8" stroke="#404040"/>
<use href="#gG" x="718.0" y="485.8" stroke="#404040"/>
<use href="#gG" x="735.2" y="485.8" stroke="#404040"/>
<use href="#gC" x="752.4" y="485.8" stroke="#3848b8"/>
<use href="#gT" x="769.6" y="485.8" stroke="#d83070"/>
<use href="#gA" x="786.8" y="485.8" stroke="#3c9a2c"/>
<use href="#gA" x="804.0" y="485.8" stroke="#3c9a2c"/>
<use href="#gT" x="821.2" y="485.8" stroke="#d83070"/>
<use href="#gT" x="838.4" y="485.8" stroke="#d83070"/>
<use href="#gC" x="855.6" y="485.8" stroke="#3848b8"/>
<use href="#gA" x="872.8" y="485.8" stroke="#3c9a2c"/>
<use href="#gC" x="890.0" y="485.8" stroke="#3848b8"/>
<use href="#gT" x="907.2" y="485.8" stroke="#d83070"/>
<use href="#gC" x="924.4" y="485.8" stroke="#3848b8"/>
<use href="#gC" x="941.6" y="485.8" stroke="#3848b8"/>
<use href="#gC" x="958.8" y="485.8" stroke="#3848b8"/>
<use href="#gA" x="976.0" y="485.8" stroke="#3c9a2c"/>
<use href="#gA" x="993.2" y="485.8" stroke="#3c9a2c"/>
<use href="#gC" x="1010.4" y="485.8" stroke="#3848b8"/>
<use href="#gG" x="1027.6" y="485.8" stroke="#404040"/>
<use href="#gA" x="1044.8" y="485.8" stroke="#3c9a2c"/>
<use href="#gA" x="1062.0" y="485.8" stroke="#3c9a2c"/>
<use href="#gG" x="1079.2" y="485.8" stroke="#404040"/>
<use href="#gA" x="1096.4" y="485.8" stroke="#3c9a2c"/>
<use href="#gC" x="1113.6" y="485.8" stroke="#3848b8"/>
<use href="#gA" x="1130.8" y="485.8" stroke="#3c9a2c"/>
<use href="#gA" x="1148.0" y="485.8" stroke="#3c9a2c"/>
<use href="#gG" x="1165.2" y="485.8" stroke="#404040"/>
<use href="#gA" x="1182.4" y="485.8" stroke="#3c9a2c"/>
<use href="#gT" x="1199.6" y="485.8" stroke="#d83070"/>
<use href="#gA" x="1216.8" y="485.8" stroke="#3c9a2c"/>
<use href="#gT" x="1234.0" y="485.8" stroke="#d83070"/>
<use href="#gC" x="1251.2" y="485.8" stroke="#3848b8"/>
<line x1="605.5" y1="345" x2="605.5" y2="490" stroke="#222" stroke-width="1"/>
<path d="M9.5,374.2 V490 H1266.5 V374.2" fill="none" stroke="#000" stroke-width="1.3"/>
<rect x="9" y="373.2" width="1258" height="1.8" fill="#000"/>
<rect x="9" y="487.5" width="1258" height="2.5" fill="#000"/>
<path d="M1.5,490 V374 H9" fill="none" stroke="#000" stroke-width="1"/>
</svg></body></html>
